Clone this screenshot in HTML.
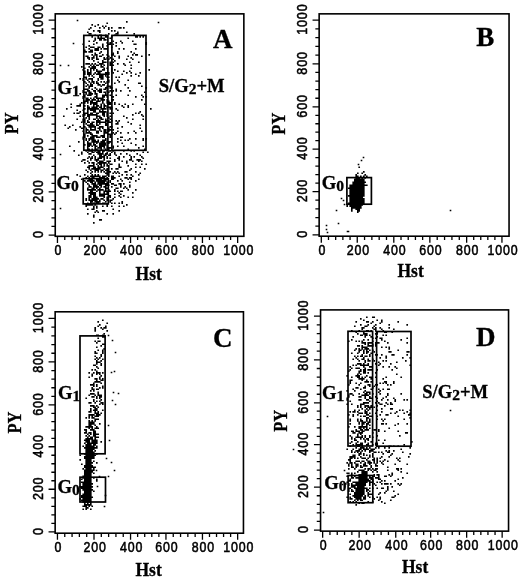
<!DOCTYPE html>
<html><head><meta charset="utf-8"><title>Figure</title>
<style>
html,body{margin:0;padding:0;background:#fff}
svg{display:block}
.tk{font-family:"Liberation Sans", sans-serif;font-size:14.5px;letter-spacing:1px;fill:#000;stroke:#000;stroke-width:0.55px}
.ax{font-family:"Liberation Serif", serif;font-weight:bold;font-size:17px;fill:#000;stroke:#000;stroke-width:0.3px}
.pl{font-family:"Liberation Serif", serif;font-weight:bold;font-size:26.5px;fill:#000;stroke:#000;stroke-width:0.3px}
.gl{font-family:"Liberation Serif", serif;font-weight:bold;font-size:18px;fill:#000;stroke:#000;stroke-width:0.3px}
.sb{font-size:15px}
</style></head><body>
<svg width="520" height="578" viewBox="0 0 520 578">
<rect width="520" height="578" fill="#fff"/>
<rect x="55.25" y="13.85" width="188.60" height="222.45" fill="none" stroke="#000" stroke-width="1.6"/>
<path d="M57.45 236.30v6.6 M55.25 235.05h-6.6 M64.76 236.30v3.8 M55.25 226.43h-3.8 M72.07 236.30v3.8 M55.25 217.81h-3.8 M79.38 236.30v3.8 M55.25 209.19h-3.8 M86.69 236.30v3.8 M55.25 200.57h-3.8 M94.00 236.30v6.6 M55.25 191.95h-6.6 M101.31 236.30v3.8 M55.25 183.45h-3.8 M108.62 236.30v3.8 M55.25 174.95h-3.8 M115.93 236.30v3.8 M55.25 166.45h-3.8 M123.24 236.30v3.8 M55.25 157.95h-3.8 M130.55 236.30v6.6 M55.25 149.45h-6.6 M137.63 236.30v3.8 M55.25 141.01h-3.8 M144.71 236.30v3.8 M55.25 132.57h-3.8 M151.79 236.30v3.8 M55.25 124.13h-3.8 M158.87 236.30v3.8 M55.25 115.69h-3.8 M165.95 236.30v6.6 M55.25 107.25h-6.6 M173.25 236.30v3.8 M55.25 98.65h-3.8 M180.55 236.30v3.8 M55.25 90.05h-3.8 M187.85 236.30v3.8 M55.25 81.45h-3.8 M195.15 236.30v3.8 M55.25 72.85h-3.8 M202.45 236.30v6.6 M55.25 64.25h-6.6 M209.49 236.30v3.8 M55.25 55.41h-3.8 M216.53 236.30v3.8 M55.25 46.57h-3.8 M223.57 236.30v3.8 M55.25 37.73h-3.8 M230.61 236.30v3.8 M55.25 28.89h-3.8 M237.65 236.30v6.6 M55.25 20.05h-6.6" stroke="#000" stroke-width="1.3" fill="none"/>
<text class="tk" transform="translate(58.45 254.65) scale(0.855 1)" text-anchor="middle">0</text>
<text class="tk" transform="translate(43.15 234.15) rotate(-90) scale(0.862 1.0)" text-anchor="middle">0</text>
<text class="tk" transform="translate(95.00 254.65) scale(0.855 1)" text-anchor="middle">200</text>
<text class="tk" transform="translate(43.15 191.05) rotate(-90) scale(0.862 1.0)" text-anchor="middle">200</text>
<text class="tk" transform="translate(131.55 254.65) scale(0.855 1)" text-anchor="middle">400</text>
<text class="tk" transform="translate(43.15 148.55) rotate(-90) scale(0.862 1.0)" text-anchor="middle">400</text>
<text class="tk" transform="translate(166.95 254.65) scale(0.855 1)" text-anchor="middle">600</text>
<text class="tk" transform="translate(43.15 106.35) rotate(-90) scale(0.862 1.0)" text-anchor="middle">600</text>
<text class="tk" transform="translate(203.45 254.65) scale(0.855 1)" text-anchor="middle">800</text>
<text class="tk" transform="translate(43.15 63.35) rotate(-90) scale(0.862 1.0)" text-anchor="middle">800</text>
<text class="tk" transform="translate(238.65 254.65) scale(0.855 1)" text-anchor="middle">1000</text>
<text class="tk" transform="translate(43.15 19.15) rotate(-90) scale(0.862 1.0)" text-anchor="middle">1000</text>
<text class="ax" transform="translate(135.60 280.00) scale(1.03 1.13)">Hst</text>
<text class="ax" transform="translate(18.00 123.30) rotate(-90) scale(0.97 1.06)" text-anchor="middle">PY</text>
<text class="pl" transform="translate(213.00 47.60) scale(1.02 1.045)">A</text>
<rect x="83.80" y="35.40" width="24.10" height="114.80" fill="none" stroke="#000" stroke-width="1.7"/>
<rect x="111.90" y="35.40" width="34.10" height="114.90" fill="none" stroke="#000" stroke-width="1.7"/>
<rect x="83.20" y="178.60" width="25.10" height="25.30" fill="none" stroke="#000" stroke-width="1.7"/>
<text class="gl" transform="translate(57.50 93.60) scale(1.04 1)">G<tspan class="sb" dy="2">1</tspan></text>
<text class="gl" transform="translate(56.50 189.10) scale(1.04 1)">G<tspan class="sb" dy="2">0</tspan></text>
<text class="gl" transform="translate(158.70 91.50) scale(1.035 1)">S/G<tspan class="sb" dy="2">2</tspan><tspan dy="-2">+M</tspan></text>
<rect x="319.15" y="13.85" width="189.90" height="222.35" fill="none" stroke="#000" stroke-width="1.6"/>
<path d="M321.30 236.20v6.6 M319.15 234.85h-6.6 M328.49 236.20v3.8 M319.15 226.19h-3.8 M335.68 236.20v3.8 M319.15 217.53h-3.8 M342.87 236.20v3.8 M319.15 208.87h-3.8 M350.06 236.20v3.8 M319.15 200.21h-3.8 M357.25 236.20v6.6 M319.15 191.55h-6.6 M364.56 236.20v3.8 M319.15 183.05h-3.8 M371.87 236.20v3.8 M319.15 174.55h-3.8 M379.18 236.20v3.8 M319.15 166.05h-3.8 M386.49 236.20v3.8 M319.15 157.55h-3.8 M393.80 236.20v6.6 M319.15 149.05h-6.6 M401.01 236.20v3.8 M319.15 140.61h-3.8 M408.22 236.20v3.8 M319.15 132.17h-3.8 M415.43 236.20v3.8 M319.15 123.73h-3.8 M422.64 236.20v3.8 M319.15 115.29h-3.8 M429.85 236.20v6.6 M319.15 106.85h-6.6 M437.21 236.20v3.8 M319.15 98.25h-3.8 M444.57 236.20v3.8 M319.15 89.65h-3.8 M451.93 236.20v3.8 M319.15 81.05h-3.8 M459.29 236.20v3.8 M319.15 72.45h-3.8 M466.65 236.20v6.6 M319.15 63.85h-6.6 M473.71 236.20v3.8 M319.15 55.09h-3.8 M480.77 236.20v3.8 M319.15 46.33h-3.8 M487.83 236.20v3.8 M319.15 37.57h-3.8 M494.89 236.20v3.8 M319.15 28.81h-3.8 M501.95 236.20v6.6 M319.15 20.05h-6.6" stroke="#000" stroke-width="1.3" fill="none"/>
<text class="tk" transform="translate(322.30 255.05) scale(0.855 1)" text-anchor="middle">0</text>
<text class="tk" transform="translate(307.05 233.95) rotate(-90) scale(0.862 1.0)" text-anchor="middle">0</text>
<text class="tk" transform="translate(358.25 255.05) scale(0.855 1)" text-anchor="middle">200</text>
<text class="tk" transform="translate(307.05 190.65) rotate(-90) scale(0.862 1.0)" text-anchor="middle">200</text>
<text class="tk" transform="translate(394.80 255.05) scale(0.855 1)" text-anchor="middle">400</text>
<text class="tk" transform="translate(307.05 148.15) rotate(-90) scale(0.862 1.0)" text-anchor="middle">400</text>
<text class="tk" transform="translate(430.85 255.05) scale(0.855 1)" text-anchor="middle">600</text>
<text class="tk" transform="translate(307.05 105.95) rotate(-90) scale(0.862 1.0)" text-anchor="middle">600</text>
<text class="tk" transform="translate(467.65 255.05) scale(0.855 1)" text-anchor="middle">800</text>
<text class="tk" transform="translate(307.05 62.95) rotate(-90) scale(0.862 1.0)" text-anchor="middle">800</text>
<text class="tk" transform="translate(502.95 255.05) scale(0.855 1)" text-anchor="middle">1000</text>
<text class="tk" transform="translate(307.05 19.15) rotate(-90) scale(0.862 1.0)" text-anchor="middle">1000</text>
<text class="ax" transform="translate(397.50 276.80) scale(1.03 1.13)">Hst</text>
<text class="ax" transform="translate(285.40 123.70) rotate(-90) scale(0.97 1.06)" text-anchor="middle">PY</text>
<text class="pl" transform="translate(476.30 45.90) scale(1.02 1.045)">B</text>
<rect x="346.90" y="177.60" width="24.50" height="26.60" fill="none" stroke="#000" stroke-width="1.7"/>
<text class="gl" transform="translate(321.70 188.60) scale(1.04 1)">G<tspan class="sb" dy="2">0</tspan></text>
<rect x="55.15" y="311.80" width="188.30" height="221.40" fill="none" stroke="#000" stroke-width="1.6"/>
<path d="M57.45 533.20v6.6 M55.15 531.95h-6.6 M64.76 533.20v3.8 M55.15 523.41h-3.8 M72.07 533.20v3.8 M55.15 514.87h-3.8 M79.38 533.20v3.8 M55.15 506.33h-3.8 M86.69 533.20v3.8 M55.15 497.79h-3.8 M94.00 533.20v6.6 M55.15 489.25h-6.6 M101.31 533.20v3.8 M55.15 480.75h-3.8 M108.62 533.20v3.8 M55.15 472.25h-3.8 M115.93 533.20v3.8 M55.15 463.75h-3.8 M123.24 533.20v3.8 M55.15 455.25h-3.8 M130.55 533.20v6.6 M55.15 446.75h-6.6 M137.63 533.20v3.8 M55.15 438.39h-3.8 M144.71 533.20v3.8 M55.15 430.03h-3.8 M151.79 533.20v3.8 M55.15 421.67h-3.8 M158.87 533.20v3.8 M55.15 413.31h-3.8 M165.95 533.20v6.6 M55.15 404.95h-6.6 M173.25 533.20v3.8 M55.15 396.35h-3.8 M180.55 533.20v3.8 M55.15 387.75h-3.8 M187.85 533.20v3.8 M55.15 379.15h-3.8 M195.15 533.20v3.8 M55.15 370.55h-3.8 M202.45 533.20v6.6 M55.15 361.95h-6.6 M209.49 533.20v3.8 M55.15 353.25h-3.8 M216.53 533.20v3.8 M55.15 344.55h-3.8 M223.57 533.20v3.8 M55.15 335.85h-3.8 M230.61 533.20v3.8 M55.15 327.15h-3.8 M237.65 533.20v6.6 M55.15 318.45h-6.6" stroke="#000" stroke-width="1.3" fill="none"/>
<text class="tk" transform="translate(58.45 551.55) scale(0.855 1)" text-anchor="middle">0</text>
<text class="tk" transform="translate(43.05 531.05) rotate(-90) scale(0.862 1.0)" text-anchor="middle">0</text>
<text class="tk" transform="translate(95.00 551.55) scale(0.855 1)" text-anchor="middle">200</text>
<text class="tk" transform="translate(43.05 488.35) rotate(-90) scale(0.862 1.0)" text-anchor="middle">200</text>
<text class="tk" transform="translate(131.55 551.55) scale(0.855 1)" text-anchor="middle">400</text>
<text class="tk" transform="translate(43.05 445.85) rotate(-90) scale(0.862 1.0)" text-anchor="middle">400</text>
<text class="tk" transform="translate(166.95 551.55) scale(0.855 1)" text-anchor="middle">600</text>
<text class="tk" transform="translate(43.05 404.05) rotate(-90) scale(0.862 1.0)" text-anchor="middle">600</text>
<text class="tk" transform="translate(203.45 551.55) scale(0.855 1)" text-anchor="middle">800</text>
<text class="tk" transform="translate(43.05 361.05) rotate(-90) scale(0.862 1.0)" text-anchor="middle">800</text>
<text class="tk" transform="translate(238.65 551.55) scale(0.855 1)" text-anchor="middle">1000</text>
<text class="tk" transform="translate(43.05 317.55) rotate(-90) scale(0.862 1.0)" text-anchor="middle">1000</text>
<text class="ax" transform="translate(135.50 575.80) scale(1.03 1.13)">Hst</text>
<text class="ax" transform="translate(21.10 422.50) rotate(-90) scale(0.97 1.06)" text-anchor="middle">PY</text>
<text class="pl" transform="translate(213.00 347.30) scale(1.02 1.045)">C</text>
<rect x="80.00" y="335.90" width="25.10" height="117.90" fill="none" stroke="#000" stroke-width="1.7"/>
<rect x="80.00" y="477.20" width="25.50" height="24.80" fill="none" stroke="#000" stroke-width="1.7"/>
<text class="gl" transform="translate(58.00 399.00) scale(1.04 1)">G<tspan class="sb" dy="2">1</tspan></text>
<text class="gl" transform="translate(57.50 492.60) scale(1.04 1)">G<tspan class="sb" dy="2">0</tspan></text>
<rect x="320.55" y="309.90" width="188.00" height="221.25" fill="none" stroke="#000" stroke-width="1.6"/>
<path d="M322.65 531.15v6.6 M320.55 530.05h-6.6 M329.95 531.15v3.8 M320.55 521.47h-3.8 M337.25 531.15v3.8 M320.55 512.89h-3.8 M344.55 531.15v3.8 M320.55 504.31h-3.8 M351.85 531.15v3.8 M320.55 495.73h-3.8 M359.15 531.15v6.6 M320.55 487.15h-6.6 M366.47 531.15v3.8 M320.55 478.65h-3.8 M373.79 531.15v3.8 M320.55 470.15h-3.8 M381.11 531.15v3.8 M320.55 461.65h-3.8 M388.43 531.15v3.8 M320.55 453.15h-3.8 M395.75 531.15v6.6 M320.55 444.65h-6.6 M402.73 531.15v3.8 M320.55 436.29h-3.8 M409.71 531.15v3.8 M320.55 427.93h-3.8 M416.69 531.15v3.8 M320.55 419.57h-3.8 M423.67 531.15v3.8 M320.55 411.21h-3.8 M430.65 531.15v6.6 M320.55 402.85h-6.6 M437.85 531.15v3.8 M320.55 394.26h-3.8 M445.05 531.15v3.8 M320.55 385.67h-3.8 M452.25 531.15v3.8 M320.55 377.08h-3.8 M459.45 531.15v3.8 M320.55 368.49h-3.8 M466.65 531.15v6.6 M320.55 359.90h-6.6 M473.75 531.15v3.8 M320.55 351.15h-3.8 M480.85 531.15v3.8 M320.55 342.40h-3.8 M487.95 531.15v3.8 M320.55 333.65h-3.8 M495.05 531.15v3.8 M320.55 324.90h-3.8 M502.15 531.15v6.6 M320.55 316.15h-6.6" stroke="#000" stroke-width="1.3" fill="none"/>
<text class="tk" transform="translate(323.65 549.60) scale(0.855 1)" text-anchor="middle">0</text>
<text class="tk" transform="translate(308.45 529.15) rotate(-90) scale(0.862 1.0)" text-anchor="middle">0</text>
<text class="tk" transform="translate(360.15 549.60) scale(0.855 1)" text-anchor="middle">200</text>
<text class="tk" transform="translate(308.45 486.25) rotate(-90) scale(0.862 1.0)" text-anchor="middle">200</text>
<text class="tk" transform="translate(396.75 549.60) scale(0.855 1)" text-anchor="middle">400</text>
<text class="tk" transform="translate(308.45 443.75) rotate(-90) scale(0.862 1.0)" text-anchor="middle">400</text>
<text class="tk" transform="translate(431.65 549.60) scale(0.855 1)" text-anchor="middle">600</text>
<text class="tk" transform="translate(308.45 401.95) rotate(-90) scale(0.862 1.0)" text-anchor="middle">600</text>
<text class="tk" transform="translate(467.65 549.60) scale(0.855 1)" text-anchor="middle">800</text>
<text class="tk" transform="translate(308.45 359.00) rotate(-90) scale(0.862 1.0)" text-anchor="middle">800</text>
<text class="tk" transform="translate(503.15 549.60) scale(0.855 1)" text-anchor="middle">1000</text>
<text class="tk" transform="translate(308.45 315.25) rotate(-90) scale(0.862 1.0)" text-anchor="middle">1000</text>
<text class="ax" transform="translate(402.00 572.80) scale(1.03 1.13)">Hst</text>
<text class="ax" transform="translate(286.50 420.75) rotate(-90) scale(0.97 1.06)" text-anchor="middle">PY</text>
<text class="pl" transform="translate(476.00 345.50) scale(1.02 1.045)">D</text>
<rect x="348.00" y="331.30" width="24.60" height="114.70" fill="none" stroke="#000" stroke-width="1.7"/>
<rect x="376.60" y="331.50" width="34.40" height="114.70" fill="none" stroke="#000" stroke-width="1.7"/>
<rect x="348.10" y="475.50" width="24.70" height="27.20" fill="none" stroke="#000" stroke-width="1.7"/>
<text class="gl" transform="translate(322.00 399.00) scale(1.04 1)">G<tspan class="sb" dy="2">1</tspan></text>
<text class="gl" transform="translate(324.20 489.10) scale(1.04 1)">G<tspan class="sb" dy="2">0</tspan></text>
<text class="gl" transform="translate(422.20 398.20) scale(1.035 1)">S/G<tspan class="sb" dy="2">2</tspan><tspan dy="-2">+M</tspan></text>
<path d="M126.8 21.8h.01 M107.2 23.2h.01 M92.2 24.8h.01 M98.2 24.8h.01 M95.2 26.2h.01 M102.8 26.2h.01 M105.8 26.2h.01 M90.8 27.8h.01 M99.8 27.8h.01 M104.2 27.8h.01 M108.8 27.8h.01 M111.8 27.8h.01 M119.2 27.8h.01 M120.8 27.8h.01 M123.8 27.8h.01 M89.2 29.2h.01 M108.8 29.2h.01 M93.8 30.8h.01 M98.2 30.8h.01 M99.8 30.8h.01 M111.8 30.8h.01 M114.8 30.8h.01 M87.8 32.2h.01 M99.8 32.2h.01 M117.8 32.2h.01 M126.8 32.2h.01 M89.2 33.8h.01 M90.8 33.8h.01 M108.8 33.8h.01 M116.2 33.8h.01 M117.8 33.8h.01 M134.2 33.8h.01 M95.2 35.2h.01 M99.8 35.2h.01 M101.2 35.2h.01 M105.8 35.2h.01 M114.8 35.2h.01 M92.2 36.8h.01 M98.2 36.8h.01 M101.2 36.8h.01 M105.8 36.8h.01 M107.2 36.8h.01 M111.8 36.8h.01 M135.8 36.8h.01 M137.2 36.8h.01 M140.2 36.8h.01 M143.2 36.8h.01 M95.2 38.2h.01 M98.2 38.2h.01 M99.8 38.2h.01 M101.2 38.2h.01 M102.8 38.2h.01 M104.2 38.2h.01 M110.2 38.2h.01 M128.2 38.2h.01 M95.2 39.8h.01 M99.8 39.8h.01 M101.2 39.8h.01 M104.2 39.8h.01 M105.8 39.8h.01 M89.2 41.2h.01 M93.8 41.2h.01 M113.2 41.2h.01 M120.8 41.2h.01 M132.8 41.2h.01 M96.8 42.8h.01 M107.2 42.8h.01 M110.2 42.8h.01 M116.2 42.8h.01 M122.2 42.8h.01 M146.2 42.8h.01 M83.2 44.2h.01 M93.8 44.2h.01 M102.8 44.2h.01 M108.8 44.2h.01 M110.2 44.2h.01 M113.2 44.2h.01 M134.2 44.2h.01 M135.8 44.2h.01 M146.2 44.2h.01 M89.2 45.8h.01 M102.8 45.8h.01 M107.2 45.8h.01 M116.2 45.8h.01 M86.2 47.2h.01 M90.8 47.2h.01 M92.2 47.2h.01 M93.8 47.2h.01 M98.2 47.2h.01 M99.8 47.2h.01 M102.8 47.2h.01 M111.8 47.2h.01 M89.2 48.8h.01 M95.2 48.8h.01 M96.8 48.8h.01 M98.2 48.8h.01 M101.2 48.8h.01 M104.2 48.8h.01 M105.8 48.8h.01 M107.2 48.8h.01 M119.2 48.8h.01 M123.8 48.8h.01 M135.8 48.8h.01 M84.8 50.2h.01 M90.8 50.2h.01 M92.2 50.2h.01 M95.2 50.2h.01 M96.8 50.2h.01 M98.2 50.2h.01 M84.8 51.8h.01 M86.2 51.8h.01 M89.2 51.8h.01 M90.8 51.8h.01 M92.2 51.8h.01 M101.2 51.8h.01 M117.8 51.8h.01 M131.2 51.8h.01 M95.2 53.2h.01 M99.8 53.2h.01 M113.2 53.2h.01 M117.8 53.2h.01 M134.2 53.2h.01 M92.2 54.8h.01 M95.2 54.8h.01 M96.8 54.8h.01 M102.8 54.8h.01 M107.2 54.8h.01 M111.8 54.8h.01 M113.2 54.8h.01 M132.8 54.8h.01 M135.8 54.8h.01 M137.2 54.8h.01 M149.2 54.8h.01 M86.2 56.2h.01 M87.8 56.2h.01 M93.8 56.2h.01 M96.8 56.2h.01 M99.8 56.2h.01 M101.2 56.2h.01 M108.8 56.2h.01 M114.8 56.2h.01 M119.2 56.2h.01 M128.2 56.2h.01 M141.8 56.2h.01 M87.8 57.8h.01 M89.2 57.8h.01 M92.2 57.8h.01 M93.8 57.8h.01 M96.8 57.8h.01 M104.2 57.8h.01 M107.2 57.8h.01 M110.2 57.8h.01 M119.2 57.8h.01 M131.2 57.8h.01 M89.2 59.2h.01 M92.2 59.2h.01 M96.8 59.2h.01 M98.2 59.2h.01 M104.2 59.2h.01 M105.8 59.2h.01 M108.8 59.2h.01 M113.2 59.2h.01 M126.8 59.2h.01 M132.8 59.2h.01 M93.8 60.8h.01 M102.8 60.8h.01 M114.8 60.8h.01 M98.2 62.2h.01 M102.8 62.2h.01 M104.2 62.2h.01 M105.8 62.2h.01 M110.2 62.2h.01 M113.2 62.2h.01 M129.8 62.2h.01 M138.8 62.2h.01 M86.2 63.8h.01 M87.8 63.8h.01 M89.2 63.8h.01 M92.2 63.8h.01 M95.2 63.8h.01 M99.8 63.8h.01 M101.2 63.8h.01 M102.8 63.8h.01 M110.2 63.8h.01 M111.8 63.8h.01 M117.8 63.8h.01 M123.8 63.8h.01 M90.8 65.2h.01 M93.8 65.2h.01 M96.8 65.2h.01 M98.2 65.2h.01 M101.2 65.2h.01 M104.2 65.2h.01 M110.2 65.2h.01 M111.8 65.2h.01 M113.2 65.2h.01 M125.2 65.2h.01 M131.2 65.2h.01 M81.8 66.8h.01 M89.2 66.8h.01 M92.2 66.8h.01 M93.8 66.8h.01 M95.2 66.8h.01 M101.2 66.8h.01 M102.8 66.8h.01 M84.8 68.2h.01 M90.8 68.2h.01 M92.2 68.2h.01 M93.8 68.2h.01 M95.2 68.2h.01 M104.2 68.2h.01 M107.2 68.2h.01 M111.8 68.2h.01 M131.2 68.2h.01 M83.2 69.8h.01 M87.8 69.8h.01 M90.8 69.8h.01 M93.8 69.8h.01 M96.8 69.8h.01 M102.8 69.8h.01 M104.2 69.8h.01 M111.8 69.8h.01 M114.8 69.8h.01 M149.2 69.8h.01 M84.8 71.2h.01 M87.8 71.2h.01 M90.8 71.2h.01 M96.8 71.2h.01 M98.2 71.2h.01 M99.8 71.2h.01 M101.2 71.2h.01 M111.8 71.2h.01 M117.8 71.2h.01 M123.8 71.2h.01 M129.8 71.2h.01 M84.8 72.8h.01 M87.8 72.8h.01 M89.2 72.8h.01 M90.8 72.8h.01 M95.2 72.8h.01 M98.2 72.8h.01 M99.8 72.8h.01 M105.8 72.8h.01 M107.2 72.8h.01 M108.8 72.8h.01 M113.2 72.8h.01 M126.8 72.8h.01 M131.2 72.8h.01 M140.2 72.8h.01 M84.8 74.2h.01 M87.8 74.2h.01 M89.2 74.2h.01 M90.8 74.2h.01 M93.8 74.2h.01 M96.8 74.2h.01 M98.2 74.2h.01 M99.8 74.2h.01 M101.2 74.2h.01 M102.8 74.2h.01 M104.2 74.2h.01 M105.8 74.2h.01 M107.2 74.2h.01 M108.8 74.2h.01 M122.2 74.2h.01 M135.8 74.2h.01 M89.2 75.8h.01 M92.2 75.8h.01 M99.8 75.8h.01 M101.2 75.8h.01 M102.8 75.8h.01 M105.8 75.8h.01 M131.2 75.8h.01 M138.8 75.8h.01 M84.8 77.2h.01 M86.2 77.2h.01 M93.8 77.2h.01 M99.8 77.2h.01 M101.2 77.2h.01 M102.8 77.2h.01 M107.2 77.2h.01 M108.8 77.2h.01 M116.2 77.2h.01 M119.2 77.2h.01 M80.2 78.8h.01 M83.2 78.8h.01 M86.2 78.8h.01 M89.2 78.8h.01 M90.8 78.8h.01 M92.2 78.8h.01 M98.2 78.8h.01 M101.2 78.8h.01 M102.8 78.8h.01 M83.2 80.2h.01 M87.8 80.2h.01 M92.2 80.2h.01 M98.2 80.2h.01 M108.8 80.2h.01 M117.8 80.2h.01 M128.2 80.2h.01 M84.8 81.8h.01 M89.2 81.8h.01 M92.2 81.8h.01 M93.8 81.8h.01 M96.8 81.8h.01 M101.2 81.8h.01 M104.2 81.8h.01 M107.2 81.8h.01 M108.8 81.8h.01 M119.2 81.8h.01 M86.2 83.2h.01 M90.8 83.2h.01 M93.8 83.2h.01 M96.8 83.2h.01 M98.2 83.2h.01 M105.8 83.2h.01 M114.8 83.2h.01 M138.8 83.2h.01 M140.2 83.2h.01 M87.8 84.8h.01 M90.8 84.8h.01 M92.2 84.8h.01 M98.2 84.8h.01 M99.8 84.8h.01 M102.8 84.8h.01 M104.2 84.8h.01 M125.2 84.8h.01 M86.2 86.2h.01 M89.2 86.2h.01 M90.8 86.2h.01 M92.2 86.2h.01 M101.2 86.2h.01 M107.2 86.2h.01 M108.8 86.2h.01 M110.2 86.2h.01 M141.8 86.2h.01 M89.2 87.8h.01 M95.2 87.8h.01 M105.8 87.8h.01 M107.2 87.8h.01 M110.2 87.8h.01 M111.8 87.8h.01 M128.2 87.8h.01 M146.2 87.8h.01 M84.8 89.2h.01 M86.2 89.2h.01 M87.8 89.2h.01 M92.2 89.2h.01 M96.8 89.2h.01 M99.8 89.2h.01 M101.2 89.2h.01 M104.2 89.2h.01 M105.8 89.2h.01 M116.2 89.2h.01 M83.2 90.8h.01 M87.8 90.8h.01 M89.2 90.8h.01 M93.8 90.8h.01 M95.2 90.8h.01 M98.2 90.8h.01 M99.8 90.8h.01 M101.2 90.8h.01 M107.2 90.8h.01 M110.2 90.8h.01 M113.2 90.8h.01 M116.2 90.8h.01 M120.8 90.8h.01 M129.8 90.8h.01 M83.2 92.2h.01 M84.8 92.2h.01 M86.2 92.2h.01 M89.2 92.2h.01 M90.8 92.2h.01 M95.2 92.2h.01 M99.8 92.2h.01 M101.2 92.2h.01 M104.2 92.2h.01 M105.8 92.2h.01 M108.8 92.2h.01 M111.8 92.2h.01 M144.8 92.2h.01 M80.2 93.8h.01 M86.2 93.8h.01 M89.2 93.8h.01 M90.8 93.8h.01 M92.2 93.8h.01 M95.2 93.8h.01 M96.8 93.8h.01 M105.8 93.8h.01 M84.8 95.2h.01 M87.8 95.2h.01 M89.2 95.2h.01 M90.8 95.2h.01 M96.8 95.2h.01 M102.8 95.2h.01 M104.2 95.2h.01 M105.8 95.2h.01 M107.2 95.2h.01 M110.2 95.2h.01 M116.2 95.2h.01 M128.2 95.2h.01 M141.8 95.2h.01 M83.2 96.8h.01 M84.8 96.8h.01 M95.2 96.8h.01 M96.8 96.8h.01 M102.8 96.8h.01 M104.2 96.8h.01 M107.2 96.8h.01 M111.8 96.8h.01 M113.2 96.8h.01 M135.8 96.8h.01 M143.2 96.8h.01 M146.2 96.8h.01 M83.2 98.2h.01 M86.2 98.2h.01 M87.8 98.2h.01 M90.8 98.2h.01 M93.8 98.2h.01 M96.8 98.2h.01 M98.2 98.2h.01 M99.8 98.2h.01 M101.2 98.2h.01 M102.8 98.2h.01 M86.2 99.8h.01 M87.8 99.8h.01 M89.2 99.8h.01 M92.2 99.8h.01 M93.8 99.8h.01 M95.2 99.8h.01 M98.2 99.8h.01 M101.2 99.8h.01 M102.8 99.8h.01 M104.2 99.8h.01 M107.2 99.8h.01 M111.8 99.8h.01 M113.2 99.8h.01 M141.8 99.8h.01 M84.8 101.2h.01 M86.2 101.2h.01 M87.8 101.2h.01 M90.8 101.2h.01 M92.2 101.2h.01 M96.8 101.2h.01 M98.2 101.2h.01 M99.8 101.2h.01 M102.8 101.2h.01 M107.2 101.2h.01 M108.8 101.2h.01 M111.8 101.2h.01 M81.8 102.8h.01 M84.8 102.8h.01 M87.8 102.8h.01 M90.8 102.8h.01 M92.2 102.8h.01 M93.8 102.8h.01 M95.2 102.8h.01 M96.8 102.8h.01 M102.8 102.8h.01 M107.2 102.8h.01 M108.8 102.8h.01 M110.2 102.8h.01 M114.8 102.8h.01 M71.2 104.2h.01 M80.2 104.2h.01 M90.8 104.2h.01 M93.8 104.2h.01 M95.2 104.2h.01 M96.8 104.2h.01 M101.2 104.2h.01 M104.2 104.2h.01 M108.8 104.2h.01 M110.2 104.2h.01 M114.8 104.2h.01 M119.2 104.2h.01 M125.2 104.2h.01 M132.8 104.2h.01 M144.8 104.2h.01 M77.2 105.8h.01 M78.8 105.8h.01 M80.2 105.8h.01 M84.8 105.8h.01 M87.8 105.8h.01 M93.8 105.8h.01 M96.8 105.8h.01 M98.2 105.8h.01 M101.2 105.8h.01 M104.2 105.8h.01 M105.8 105.8h.01 M122.2 105.8h.01 M128.2 105.8h.01 M71.2 107.2h.01 M87.8 107.2h.01 M89.2 107.2h.01 M92.2 107.2h.01 M93.8 107.2h.01 M95.2 107.2h.01 M96.8 107.2h.01 M99.8 107.2h.01 M101.2 107.2h.01 M104.2 107.2h.01 M107.2 107.2h.01 M108.8 107.2h.01 M110.2 107.2h.01 M111.8 107.2h.01 M123.8 107.2h.01 M128.2 107.2h.01 M66.8 108.8h.01 M84.8 108.8h.01 M87.8 108.8h.01 M89.2 108.8h.01 M90.8 108.8h.01 M92.2 108.8h.01 M93.8 108.8h.01 M95.2 108.8h.01 M96.8 108.8h.01 M98.2 108.8h.01 M101.2 108.8h.01 M102.8 108.8h.01 M104.2 108.8h.01 M105.8 108.8h.01 M110.2 108.8h.01 M111.8 108.8h.01 M116.2 108.8h.01 M150.8 108.8h.01 M77.2 110.2h.01 M83.2 110.2h.01 M87.8 110.2h.01 M90.8 110.2h.01 M92.2 110.2h.01 M93.8 110.2h.01 M95.2 110.2h.01 M99.8 110.2h.01 M102.8 110.2h.01 M117.8 110.2h.01 M80.2 111.8h.01 M87.8 111.8h.01 M93.8 111.8h.01 M95.2 111.8h.01 M99.8 111.8h.01 M101.2 111.8h.01 M102.8 111.8h.01 M104.2 111.8h.01 M105.8 111.8h.01 M140.2 111.8h.01 M74.2 113.2h.01 M77.2 113.2h.01 M78.8 113.2h.01 M84.8 113.2h.01 M86.2 113.2h.01 M87.8 113.2h.01 M90.8 113.2h.01 M92.2 113.2h.01 M96.8 113.2h.01 M98.2 113.2h.01 M102.8 113.2h.01 M104.2 113.2h.01 M107.2 113.2h.01 M110.2 113.2h.01 M113.2 113.2h.01 M135.8 113.2h.01 M138.8 113.2h.01 M83.2 114.8h.01 M84.8 114.8h.01 M87.8 114.8h.01 M89.2 114.8h.01 M90.8 114.8h.01 M92.2 114.8h.01 M93.8 114.8h.01 M95.2 114.8h.01 M96.8 114.8h.01 M102.8 114.8h.01 M104.2 114.8h.01 M107.2 114.8h.01 M132.8 114.8h.01 M141.8 114.8h.01 M63.8 116.2h.01 M80.2 116.2h.01 M83.2 116.2h.01 M87.8 116.2h.01 M89.2 116.2h.01 M96.8 116.2h.01 M98.2 116.2h.01 M99.8 116.2h.01 M104.2 116.2h.01 M107.2 116.2h.01 M110.2 116.2h.01 M123.8 116.2h.01 M143.2 116.2h.01 M86.2 117.8h.01 M89.2 117.8h.01 M96.8 117.8h.01 M99.8 117.8h.01 M101.2 117.8h.01 M108.8 117.8h.01 M126.8 117.8h.01 M77.2 119.2h.01 M83.2 119.2h.01 M84.8 119.2h.01 M89.2 119.2h.01 M93.8 119.2h.01 M95.2 119.2h.01 M98.2 119.2h.01 M101.2 119.2h.01 M102.8 119.2h.01 M105.8 119.2h.01 M110.2 119.2h.01 M132.8 119.2h.01 M143.2 119.2h.01 M83.2 120.8h.01 M84.8 120.8h.01 M87.8 120.8h.01 M96.8 120.8h.01 M98.2 120.8h.01 M99.8 120.8h.01 M105.8 120.8h.01 M107.2 120.8h.01 M108.8 120.8h.01 M111.8 120.8h.01 M116.2 120.8h.01 M119.2 120.8h.01 M81.8 122.2h.01 M84.8 122.2h.01 M87.8 122.2h.01 M89.2 122.2h.01 M92.2 122.2h.01 M93.8 122.2h.01 M96.8 122.2h.01 M98.2 122.2h.01 M99.8 122.2h.01 M101.2 122.2h.01 M102.8 122.2h.01 M104.2 122.2h.01 M105.8 122.2h.01 M108.8 122.2h.01 M110.2 122.2h.01 M117.8 122.2h.01 M128.2 122.2h.01 M86.2 123.8h.01 M90.8 123.8h.01 M92.2 123.8h.01 M96.8 123.8h.01 M99.8 123.8h.01 M105.8 123.8h.01 M107.2 123.8h.01 M116.2 123.8h.01 M117.8 123.8h.01 M131.2 123.8h.01 M65.2 125.2h.01 M72.8 125.2h.01 M87.8 125.2h.01 M89.2 125.2h.01 M90.8 125.2h.01 M92.2 125.2h.01 M93.8 125.2h.01 M96.8 125.2h.01 M98.2 125.2h.01 M105.8 125.2h.01 M107.2 125.2h.01 M140.2 125.2h.01 M69.8 126.8h.01 M80.2 126.8h.01 M84.8 126.8h.01 M89.2 126.8h.01 M90.8 126.8h.01 M92.2 126.8h.01 M93.8 126.8h.01 M95.2 126.8h.01 M99.8 126.8h.01 M101.2 126.8h.01 M102.8 126.8h.01 M110.2 126.8h.01 M111.8 126.8h.01 M122.2 126.8h.01 M68.2 128.2h.01 M81.8 128.2h.01 M83.2 128.2h.01 M86.2 128.2h.01 M90.8 128.2h.01 M95.2 128.2h.01 M98.2 128.2h.01 M99.8 128.2h.01 M102.8 128.2h.01 M108.8 128.2h.01 M117.8 128.2h.01 M140.2 128.2h.01 M75.8 129.8h.01 M86.2 129.8h.01 M87.8 129.8h.01 M90.8 129.8h.01 M92.2 129.8h.01 M93.8 129.8h.01 M95.2 129.8h.01 M99.8 129.8h.01 M104.2 129.8h.01 M105.8 129.8h.01 M108.8 129.8h.01 M110.2 129.8h.01 M113.2 129.8h.01 M83.2 131.2h.01 M86.2 131.2h.01 M89.2 131.2h.01 M96.8 131.2h.01 M98.2 131.2h.01 M101.2 131.2h.01 M104.2 131.2h.01 M105.8 131.2h.01 M108.8 131.2h.01 M117.8 131.2h.01 M134.2 131.2h.01 M141.8 131.2h.01 M86.2 132.8h.01 M87.8 132.8h.01 M89.2 132.8h.01 M90.8 132.8h.01 M96.8 132.8h.01 M98.2 132.8h.01 M104.2 132.8h.01 M105.8 132.8h.01 M107.2 132.8h.01 M113.2 132.8h.01 M116.2 132.8h.01 M120.8 132.8h.01 M128.2 132.8h.01 M135.8 132.8h.01 M84.8 134.2h.01 M90.8 134.2h.01 M92.2 134.2h.01 M104.2 134.2h.01 M108.8 134.2h.01 M110.2 134.2h.01 M111.8 134.2h.01 M114.8 134.2h.01 M84.8 135.8h.01 M87.8 135.8h.01 M92.2 135.8h.01 M93.8 135.8h.01 M95.2 135.8h.01 M96.8 135.8h.01 M101.2 135.8h.01 M102.8 135.8h.01 M104.2 135.8h.01 M110.2 135.8h.01 M83.2 137.2h.01 M84.8 137.2h.01 M90.8 137.2h.01 M92.2 137.2h.01 M93.8 137.2h.01 M96.8 137.2h.01 M98.2 137.2h.01 M99.8 137.2h.01 M102.8 137.2h.01 M104.2 137.2h.01 M110.2 137.2h.01 M120.8 137.2h.01 M122.2 137.2h.01 M83.2 138.8h.01 M86.2 138.8h.01 M89.2 138.8h.01 M90.8 138.8h.01 M92.2 138.8h.01 M93.8 138.8h.01 M105.8 138.8h.01 M117.8 138.8h.01 M129.8 138.8h.01 M135.8 138.8h.01 M143.2 138.8h.01 M146.2 138.8h.01 M86.2 140.2h.01 M89.2 140.2h.01 M92.2 140.2h.01 M93.8 140.2h.01 M95.2 140.2h.01 M98.2 140.2h.01 M102.8 140.2h.01 M104.2 140.2h.01 M105.8 140.2h.01 M120.8 140.2h.01 M125.2 140.2h.01 M128.2 140.2h.01 M143.2 140.2h.01 M78.8 141.8h.01 M87.8 141.8h.01 M92.2 141.8h.01 M93.8 141.8h.01 M95.2 141.8h.01 M96.8 141.8h.01 M98.2 141.8h.01 M101.2 141.8h.01 M102.8 141.8h.01 M104.2 141.8h.01 M107.2 141.8h.01 M108.8 141.8h.01 M110.2 141.8h.01 M117.8 141.8h.01 M87.8 143.2h.01 M89.2 143.2h.01 M90.8 143.2h.01 M93.8 143.2h.01 M96.8 143.2h.01 M99.8 143.2h.01 M101.2 143.2h.01 M102.8 143.2h.01 M104.2 143.2h.01 M105.8 143.2h.01 M108.8 143.2h.01 M122.2 143.2h.01 M131.2 143.2h.01 M84.8 144.8h.01 M87.8 144.8h.01 M89.2 144.8h.01 M90.8 144.8h.01 M93.8 144.8h.01 M95.2 144.8h.01 M99.8 144.8h.01 M101.2 144.8h.01 M102.8 144.8h.01 M104.2 144.8h.01 M105.8 144.8h.01 M135.8 144.8h.01 M69.8 146.2h.01 M87.8 146.2h.01 M89.2 146.2h.01 M92.2 146.2h.01 M95.2 146.2h.01 M96.8 146.2h.01 M99.8 146.2h.01 M101.2 146.2h.01 M102.8 146.2h.01 M104.2 146.2h.01 M107.2 146.2h.01 M113.2 146.2h.01 M117.8 146.2h.01 M123.8 146.2h.01 M143.2 146.2h.01 M87.8 147.8h.01 M95.2 147.8h.01 M98.2 147.8h.01 M99.8 147.8h.01 M101.2 147.8h.01 M104.2 147.8h.01 M107.2 147.8h.01 M108.8 147.8h.01 M110.2 147.8h.01 M113.2 147.8h.01 M138.8 147.8h.01 M87.8 149.2h.01 M89.2 149.2h.01 M92.2 149.2h.01 M95.2 149.2h.01 M96.8 149.2h.01 M101.2 149.2h.01 M105.8 149.2h.01 M108.8 149.2h.01 M128.2 149.2h.01 M144.8 149.2h.01 M74.2 150.8h.01 M86.2 150.8h.01 M89.2 150.8h.01 M90.8 150.8h.01 M92.2 150.8h.01 M95.2 150.8h.01 M98.2 150.8h.01 M99.8 150.8h.01 M102.8 150.8h.01 M104.2 150.8h.01 M108.8 150.8h.01 M110.2 150.8h.01 M113.2 150.8h.01 M123.8 150.8h.01 M131.2 150.8h.01 M134.2 150.8h.01 M81.8 152.2h.01 M87.8 152.2h.01 M92.2 152.2h.01 M93.8 152.2h.01 M96.8 152.2h.01 M98.2 152.2h.01 M99.8 152.2h.01 M102.8 152.2h.01 M107.2 152.2h.01 M111.8 152.2h.01 M114.8 152.2h.01 M143.2 152.2h.01 M147.8 152.2h.01 M81.8 153.8h.01 M89.2 153.8h.01 M90.8 153.8h.01 M98.2 153.8h.01 M99.8 153.8h.01 M101.2 153.8h.01 M102.8 153.8h.01 M105.8 153.8h.01 M107.2 153.8h.01 M110.2 153.8h.01 M114.8 153.8h.01 M120.8 153.8h.01 M126.8 153.8h.01 M137.2 153.8h.01 M78.8 155.2h.01 M93.8 155.2h.01 M99.8 155.2h.01 M101.2 155.2h.01 M104.2 155.2h.01 M105.8 155.2h.01 M108.8 155.2h.01 M110.2 155.2h.01 M116.2 155.2h.01 M129.8 155.2h.01 M140.2 155.2h.01 M89.2 156.8h.01 M92.2 156.8h.01 M95.2 156.8h.01 M99.8 156.8h.01 M101.2 156.8h.01 M102.8 156.8h.01 M104.2 156.8h.01 M107.2 156.8h.01 M119.2 156.8h.01 M123.8 156.8h.01 M131.2 156.8h.01 M134.2 156.8h.01 M141.8 156.8h.01 M87.8 158.2h.01 M90.8 158.2h.01 M92.2 158.2h.01 M95.2 158.2h.01 M98.2 158.2h.01 M99.8 158.2h.01 M101.2 158.2h.01 M104.2 158.2h.01 M107.2 158.2h.01 M110.2 158.2h.01 M117.8 158.2h.01 M119.2 158.2h.01 M131.2 158.2h.01 M143.2 158.2h.01 M83.2 159.8h.01 M84.8 159.8h.01 M90.8 159.8h.01 M95.2 159.8h.01 M96.8 159.8h.01 M98.2 159.8h.01 M104.2 159.8h.01 M114.8 159.8h.01 M119.2 159.8h.01 M129.8 159.8h.01 M131.2 159.8h.01 M137.2 159.8h.01 M138.8 159.8h.01 M140.2 159.8h.01 M81.8 161.2h.01 M87.8 161.2h.01 M96.8 161.2h.01 M99.8 161.2h.01 M101.2 161.2h.01 M102.8 161.2h.01 M107.2 161.2h.01 M108.8 161.2h.01 M110.2 161.2h.01 M114.8 161.2h.01 M122.2 161.2h.01 M126.8 161.2h.01 M132.8 161.2h.01 M138.8 161.2h.01 M141.8 161.2h.01 M84.8 162.8h.01 M89.2 162.8h.01 M92.2 162.8h.01 M93.8 162.8h.01 M98.2 162.8h.01 M99.8 162.8h.01 M101.2 162.8h.01 M102.8 162.8h.01 M104.2 162.8h.01 M105.8 162.8h.01 M108.8 162.8h.01 M126.8 162.8h.01 M93.8 164.2h.01 M96.8 164.2h.01 M99.8 164.2h.01 M101.2 164.2h.01 M104.2 164.2h.01 M107.2 164.2h.01 M110.2 164.2h.01 M111.8 164.2h.01 M119.2 164.2h.01 M135.8 164.2h.01 M141.8 164.2h.01 M146.2 164.2h.01 M89.2 165.8h.01 M90.8 165.8h.01 M92.2 165.8h.01 M93.8 165.8h.01 M98.2 165.8h.01 M101.2 165.8h.01 M104.2 165.8h.01 M107.2 165.8h.01 M108.8 165.8h.01 M119.2 165.8h.01 M128.2 165.8h.01 M87.8 167.2h.01 M89.2 167.2h.01 M93.8 167.2h.01 M95.2 167.2h.01 M98.2 167.2h.01 M99.8 167.2h.01 M101.2 167.2h.01 M102.8 167.2h.01 M108.8 167.2h.01 M119.2 167.2h.01 M120.8 167.2h.01 M135.8 167.2h.01 M140.2 167.2h.01 M359.2 167.2h.01 M89.2 168.8h.01 M92.2 168.8h.01 M93.8 168.8h.01 M95.2 168.8h.01 M96.8 168.8h.01 M98.2 168.8h.01 M99.8 168.8h.01 M104.2 168.8h.01 M107.2 168.8h.01 M108.8 168.8h.01 M111.8 168.8h.01 M116.2 168.8h.01 M117.8 168.8h.01 M131.2 168.8h.01 M144.8 168.8h.01 M86.2 170.2h.01 M90.8 170.2h.01 M95.2 170.2h.01 M96.8 170.2h.01 M98.2 170.2h.01 M101.2 170.2h.01 M102.8 170.2h.01 M105.8 170.2h.01 M107.2 170.2h.01 M108.8 170.2h.01 M129.8 170.2h.01 M87.8 171.8h.01 M92.2 171.8h.01 M95.2 171.8h.01 M98.2 171.8h.01 M101.2 171.8h.01 M104.2 171.8h.01 M107.2 171.8h.01 M108.8 171.8h.01 M110.2 171.8h.01 M114.8 171.8h.01 M117.8 171.8h.01 M125.2 171.8h.01 M126.8 171.8h.01 M135.8 171.8h.01 M363.8 171.8h.01 M90.8 173.2h.01 M105.8 173.2h.01 M107.2 173.2h.01 M108.8 173.2h.01 M113.2 173.2h.01 M116.2 173.2h.01 M119.2 173.2h.01 M140.2 173.2h.01 M357.8 173.2h.01 M362.2 173.2h.01 M77.2 174.8h.01 M84.8 174.8h.01 M92.2 174.8h.01 M95.2 174.8h.01 M98.2 174.8h.01 M107.2 174.8h.01 M108.8 174.8h.01 M122.2 174.8h.01 M126.8 174.8h.01 M131.2 174.8h.01 M138.8 174.8h.01 M356.2 174.8h.01 M365.2 174.8h.01 M80.2 176.2h.01 M87.8 176.2h.01 M90.8 176.2h.01 M92.2 176.2h.01 M93.8 176.2h.01 M95.2 176.2h.01 M96.8 176.2h.01 M98.2 176.2h.01 M99.8 176.2h.01 M102.8 176.2h.01 M104.2 176.2h.01 M105.8 176.2h.01 M108.8 176.2h.01 M111.8 176.2h.01 M113.2 176.2h.01 M119.2 176.2h.01 M132.8 176.2h.01 M356.2 176.2h.01 M357.8 176.2h.01 M360.8 176.2h.01 M363.8 176.2h.01 M366.8 176.2h.01 M86.2 177.8h.01 M89.2 177.8h.01 M92.2 177.8h.01 M93.8 177.8h.01 M99.8 177.8h.01 M101.2 177.8h.01 M102.8 177.8h.01 M104.2 177.8h.01 M107.2 177.8h.01 M111.8 177.8h.01 M113.2 177.8h.01 M114.8 177.8h.01 M125.2 177.8h.01 M126.8 177.8h.01 M129.8 177.8h.01 M131.2 177.8h.01 M356.2 177.8h.01 M357.8 177.8h.01 M359.2 177.8h.01 M362.2 177.8h.01 M365.2 177.8h.01 M81.8 179.2h.01 M89.2 179.2h.01 M90.8 179.2h.01 M92.2 179.2h.01 M96.8 179.2h.01 M98.2 179.2h.01 M99.8 179.2h.01 M101.2 179.2h.01 M104.2 179.2h.01 M105.8 179.2h.01 M107.2 179.2h.01 M111.8 179.2h.01 M113.2 179.2h.01 M120.8 179.2h.01 M128.2 179.2h.01 M131.2 179.2h.01 M138.8 179.2h.01 M354.8 179.2h.01 M356.2 179.2h.01 M357.8 179.2h.01 M359.2 179.2h.01 M360.8 179.2h.01 M362.2 179.2h.01 M363.8 179.2h.01 M84.8 180.8h.01 M87.8 180.8h.01 M89.2 180.8h.01 M90.8 180.8h.01 M92.2 180.8h.01 M93.8 180.8h.01 M96.8 180.8h.01 M98.2 180.8h.01 M99.8 180.8h.01 M101.2 180.8h.01 M102.8 180.8h.01 M104.2 180.8h.01 M105.8 180.8h.01 M110.2 180.8h.01 M117.8 180.8h.01 M122.2 180.8h.01 M135.8 180.8h.01 M354.8 180.8h.01 M356.2 180.8h.01 M357.8 180.8h.01 M359.2 180.8h.01 M360.8 180.8h.01 M362.2 180.8h.01 M363.8 180.8h.01 M86.2 182.2h.01 M90.8 182.2h.01 M92.2 182.2h.01 M95.2 182.2h.01 M98.2 182.2h.01 M99.8 182.2h.01 M101.2 182.2h.01 M102.8 182.2h.01 M104.2 182.2h.01 M107.2 182.2h.01 M110.2 182.2h.01 M129.8 182.2h.01 M353.2 182.2h.01 M354.8 182.2h.01 M356.2 182.2h.01 M357.8 182.2h.01 M359.2 182.2h.01 M360.8 182.2h.01 M362.2 182.2h.01 M363.8 182.2h.01 M365.2 182.2h.01 M87.8 183.8h.01 M92.2 183.8h.01 M93.8 183.8h.01 M95.2 183.8h.01 M98.2 183.8h.01 M99.8 183.8h.01 M101.2 183.8h.01 M102.8 183.8h.01 M104.2 183.8h.01 M105.8 183.8h.01 M107.2 183.8h.01 M111.8 183.8h.01 M113.2 183.8h.01 M119.2 183.8h.01 M120.8 183.8h.01 M123.8 183.8h.01 M353.2 183.8h.01 M354.8 183.8h.01 M356.2 183.8h.01 M357.8 183.8h.01 M359.2 183.8h.01 M360.8 183.8h.01 M362.2 183.8h.01 M363.8 183.8h.01 M89.2 185.2h.01 M93.8 185.2h.01 M95.2 185.2h.01 M96.8 185.2h.01 M99.8 185.2h.01 M101.2 185.2h.01 M105.8 185.2h.01 M107.2 185.2h.01 M108.8 185.2h.01 M114.8 185.2h.01 M116.2 185.2h.01 M120.8 185.2h.01 M129.8 185.2h.01 M350.2 185.2h.01 M351.8 185.2h.01 M353.2 185.2h.01 M354.8 185.2h.01 M356.2 185.2h.01 M357.8 185.2h.01 M359.2 185.2h.01 M360.8 185.2h.01 M362.2 185.2h.01 M363.8 185.2h.01 M365.2 185.2h.01 M366.8 185.2h.01 M89.2 186.8h.01 M90.8 186.8h.01 M93.8 186.8h.01 M95.2 186.8h.01 M96.8 186.8h.01 M98.2 186.8h.01 M101.2 186.8h.01 M104.2 186.8h.01 M105.8 186.8h.01 M111.8 186.8h.01 M120.8 186.8h.01 M125.2 186.8h.01 M129.8 186.8h.01 M350.2 186.8h.01 M351.8 186.8h.01 M353.2 186.8h.01 M354.8 186.8h.01 M356.2 186.8h.01 M357.8 186.8h.01 M359.2 186.8h.01 M360.8 186.8h.01 M362.2 186.8h.01 M363.8 186.8h.01 M87.8 188.2h.01 M92.2 188.2h.01 M93.8 188.2h.01 M96.8 188.2h.01 M99.8 188.2h.01 M105.8 188.2h.01 M107.2 188.2h.01 M116.2 188.2h.01 M117.8 188.2h.01 M123.8 188.2h.01 M126.8 188.2h.01 M348.8 188.2h.01 M350.2 188.2h.01 M351.8 188.2h.01 M353.2 188.2h.01 M354.8 188.2h.01 M356.2 188.2h.01 M357.8 188.2h.01 M359.2 188.2h.01 M360.8 188.2h.01 M362.2 188.2h.01 M363.8 188.2h.01 M87.8 189.8h.01 M89.2 189.8h.01 M90.8 189.8h.01 M92.2 189.8h.01 M93.8 189.8h.01 M95.2 189.8h.01 M98.2 189.8h.01 M99.8 189.8h.01 M101.2 189.8h.01 M102.8 189.8h.01 M105.8 189.8h.01 M108.8 189.8h.01 M114.8 189.8h.01 M128.2 189.8h.01 M135.8 189.8h.01 M350.2 189.8h.01 M351.8 189.8h.01 M353.2 189.8h.01 M354.8 189.8h.01 M356.2 189.8h.01 M357.8 189.8h.01 M359.2 189.8h.01 M360.8 189.8h.01 M362.2 189.8h.01 M363.8 189.8h.01 M90.8 191.2h.01 M92.2 191.2h.01 M96.8 191.2h.01 M99.8 191.2h.01 M104.2 191.2h.01 M105.8 191.2h.01 M107.2 191.2h.01 M108.8 191.2h.01 M110.2 191.2h.01 M114.8 191.2h.01 M117.8 191.2h.01 M120.8 191.2h.01 M122.2 191.2h.01 M350.2 191.2h.01 M351.8 191.2h.01 M353.2 191.2h.01 M354.8 191.2h.01 M356.2 191.2h.01 M357.8 191.2h.01 M359.2 191.2h.01 M360.8 191.2h.01 M362.2 191.2h.01 M363.8 191.2h.01 M89.2 192.8h.01 M90.8 192.8h.01 M92.2 192.8h.01 M93.8 192.8h.01 M95.2 192.8h.01 M99.8 192.8h.01 M104.2 192.8h.01 M107.2 192.8h.01 M119.2 192.8h.01 M132.8 192.8h.01 M350.2 192.8h.01 M351.8 192.8h.01 M353.2 192.8h.01 M354.8 192.8h.01 M356.2 192.8h.01 M357.8 192.8h.01 M359.2 192.8h.01 M360.8 192.8h.01 M362.2 192.8h.01 M363.8 192.8h.01 M90.8 194.2h.01 M92.2 194.2h.01 M93.8 194.2h.01 M95.2 194.2h.01 M99.8 194.2h.01 M101.2 194.2h.01 M102.8 194.2h.01 M104.2 194.2h.01 M105.8 194.2h.01 M107.2 194.2h.01 M114.8 194.2h.01 M120.8 194.2h.01 M350.2 194.2h.01 M351.8 194.2h.01 M353.2 194.2h.01 M354.8 194.2h.01 M356.2 194.2h.01 M357.8 194.2h.01 M359.2 194.2h.01 M360.8 194.2h.01 M362.2 194.2h.01 M363.8 194.2h.01 M89.2 195.8h.01 M90.8 195.8h.01 M93.8 195.8h.01 M95.2 195.8h.01 M99.8 195.8h.01 M101.2 195.8h.01 M102.8 195.8h.01 M104.2 195.8h.01 M108.8 195.8h.01 M110.2 195.8h.01 M119.2 195.8h.01 M123.8 195.8h.01 M348.8 195.8h.01 M350.2 195.8h.01 M351.8 195.8h.01 M353.2 195.8h.01 M354.8 195.8h.01 M356.2 195.8h.01 M357.8 195.8h.01 M359.2 195.8h.01 M360.8 195.8h.01 M362.2 195.8h.01 M363.8 195.8h.01 M89.2 197.2h.01 M90.8 197.2h.01 M93.8 197.2h.01 M95.2 197.2h.01 M96.8 197.2h.01 M104.2 197.2h.01 M107.2 197.2h.01 M110.2 197.2h.01 M114.8 197.2h.01 M120.8 197.2h.01 M128.2 197.2h.01 M132.8 197.2h.01 M350.2 197.2h.01 M351.8 197.2h.01 M353.2 197.2h.01 M354.8 197.2h.01 M356.2 197.2h.01 M357.8 197.2h.01 M359.2 197.2h.01 M360.8 197.2h.01 M362.2 197.2h.01 M86.2 198.8h.01 M89.2 198.8h.01 M92.2 198.8h.01 M93.8 198.8h.01 M95.2 198.8h.01 M96.8 198.8h.01 M98.2 198.8h.01 M101.2 198.8h.01 M102.8 198.8h.01 M107.2 198.8h.01 M113.2 198.8h.01 M350.2 198.8h.01 M351.8 198.8h.01 M353.2 198.8h.01 M354.8 198.8h.01 M356.2 198.8h.01 M357.8 198.8h.01 M359.2 198.8h.01 M360.8 198.8h.01 M362.2 198.8h.01 M363.8 198.8h.01 M86.2 200.2h.01 M89.2 200.2h.01 M90.8 200.2h.01 M92.2 200.2h.01 M93.8 200.2h.01 M95.2 200.2h.01 M96.8 200.2h.01 M99.8 200.2h.01 M104.2 200.2h.01 M107.2 200.2h.01 M110.2 200.2h.01 M111.8 200.2h.01 M350.2 200.2h.01 M351.8 200.2h.01 M353.2 200.2h.01 M354.8 200.2h.01 M356.2 200.2h.01 M357.8 200.2h.01 M359.2 200.2h.01 M360.8 200.2h.01 M362.2 200.2h.01 M363.8 200.2h.01 M90.8 201.8h.01 M92.2 201.8h.01 M95.2 201.8h.01 M96.8 201.8h.01 M98.2 201.8h.01 M99.8 201.8h.01 M105.8 201.8h.01 M110.2 201.8h.01 M122.2 201.8h.01 M350.2 201.8h.01 M351.8 201.8h.01 M353.2 201.8h.01 M354.8 201.8h.01 M356.2 201.8h.01 M357.8 201.8h.01 M359.2 201.8h.01 M360.8 201.8h.01 M362.2 201.8h.01 M363.8 201.8h.01 M87.8 203.2h.01 M90.8 203.2h.01 M93.8 203.2h.01 M96.8 203.2h.01 M98.2 203.2h.01 M102.8 203.2h.01 M104.2 203.2h.01 M111.8 203.2h.01 M114.8 203.2h.01 M119.2 203.2h.01 M122.2 203.2h.01 M348.8 203.2h.01 M350.2 203.2h.01 M351.8 203.2h.01 M353.2 203.2h.01 M354.8 203.2h.01 M356.2 203.2h.01 M357.8 203.2h.01 M359.2 203.2h.01 M360.8 203.2h.01 M362.2 203.2h.01 M363.8 203.2h.01 M86.2 204.8h.01 M87.8 204.8h.01 M89.2 204.8h.01 M90.8 204.8h.01 M92.2 204.8h.01 M95.2 204.8h.01 M107.2 204.8h.01 M126.8 204.8h.01 M347.2 204.8h.01 M350.2 204.8h.01 M351.8 204.8h.01 M353.2 204.8h.01 M354.8 204.8h.01 M356.2 204.8h.01 M357.8 204.8h.01 M359.2 204.8h.01 M360.8 204.8h.01 M362.2 204.8h.01 M86.2 206.2h.01 M93.8 206.2h.01 M96.8 206.2h.01 M102.8 206.2h.01 M107.2 206.2h.01 M111.8 206.2h.01 M119.2 206.2h.01 M123.8 206.2h.01 M347.2 206.2h.01 M350.2 206.2h.01 M351.8 206.2h.01 M353.2 206.2h.01 M354.8 206.2h.01 M356.2 206.2h.01 M357.8 206.2h.01 M359.2 206.2h.01 M360.8 206.2h.01 M93.8 207.8h.01 M96.8 207.8h.01 M351.8 207.8h.01 M353.2 207.8h.01 M354.8 207.8h.01 M356.2 207.8h.01 M357.8 207.8h.01 M359.2 207.8h.01 M360.8 207.8h.01 M87.8 209.2h.01 M92.2 209.2h.01 M93.8 209.2h.01 M113.2 209.2h.01 M351.8 209.2h.01 M356.2 209.2h.01 M357.8 209.2h.01 M359.2 209.2h.01 M96.8 210.8h.01 M102.8 210.8h.01 M104.2 210.8h.01 M119.2 210.8h.01 M351.8 210.8h.01 M357.8 210.8h.01 M359.2 210.8h.01 M95.2 212.2h.01 M98.2 212.2h.01 M357.8 212.2h.01 M87.8 213.8h.01 M107.2 213.8h.01 M113.2 213.8h.01 M93.8 215.2h.01 M93.8 216.8h.01 M99.8 219.8h.01 M101.2 219.8h.01 M93.8 222.8h.01 M366.8 317.2h.01 M372.8 317.2h.01 M374.2 317.2h.01 M360.8 318.8h.01 M102.8 320.2h.01 M363.8 320.2h.01 M377.2 320.2h.01 M381.8 320.2h.01 M98.2 321.8h.01 M356.2 321.8h.01 M366.8 321.8h.01 M368.2 321.8h.01 M372.8 321.8h.01 M381.8 321.8h.01 M398.2 321.8h.01 M107.2 323.2h.01 M371.2 323.2h.01 M380.2 323.2h.01 M99.8 324.8h.01 M360.8 324.8h.01 M368.2 324.8h.01 M375.8 324.8h.01 M389.2 324.8h.01 M407.2 324.8h.01 M98.2 326.2h.01 M105.8 326.2h.01 M354.8 326.2h.01 M365.2 326.2h.01 M366.8 326.2h.01 M374.2 326.2h.01 M95.2 327.8h.01 M101.2 327.8h.01 M104.2 327.8h.01 M105.8 327.8h.01 M362.2 327.8h.01 M363.8 327.8h.01 M372.8 327.8h.01 M375.8 327.8h.01 M380.2 327.8h.01 M389.2 327.8h.01 M95.2 329.2h.01 M102.8 329.2h.01 M362.2 329.2h.01 M374.2 329.2h.01 M375.8 329.2h.01 M381.8 329.2h.01 M393.8 329.2h.01 M95.2 330.8h.01 M107.2 330.8h.01 M351.8 330.8h.01 M359.2 330.8h.01 M366.8 330.8h.01 M368.2 330.8h.01 M371.2 330.8h.01 M375.8 330.8h.01 M383.2 330.8h.01 M356.2 332.2h.01 M363.8 332.2h.01 M377.2 332.2h.01 M384.8 332.2h.01 M386.2 332.2h.01 M392.2 332.2h.01 M104.2 333.8h.01 M357.8 333.8h.01 M363.8 333.8h.01 M365.2 333.8h.01 M366.8 333.8h.01 M375.8 333.8h.01 M377.2 333.8h.01 M96.8 335.2h.01 M98.2 335.2h.01 M102.8 335.2h.01 M360.8 335.2h.01 M362.2 335.2h.01 M365.2 335.2h.01 M366.8 335.2h.01 M369.8 335.2h.01 M383.2 335.2h.01 M386.2 335.2h.01 M102.8 336.8h.01 M104.2 336.8h.01 M353.2 336.8h.01 M365.2 336.8h.01 M371.2 336.8h.01 M377.2 336.8h.01 M98.2 338.2h.01 M372.8 338.2h.01 M375.8 338.2h.01 M380.2 338.2h.01 M381.8 338.2h.01 M407.2 338.2h.01 M351.8 339.8h.01 M363.8 339.8h.01 M368.2 339.8h.01 M381.8 339.8h.01 M401.2 339.8h.01 M95.2 341.2h.01 M98.2 341.2h.01 M99.8 341.2h.01 M348.8 341.2h.01 M356.2 341.2h.01 M359.2 341.2h.01 M362.2 341.2h.01 M372.8 341.2h.01 M384.8 341.2h.01 M96.8 342.8h.01 M362.2 342.8h.01 M363.8 342.8h.01 M365.2 342.8h.01 M368.2 342.8h.01 M369.8 342.8h.01 M371.2 342.8h.01 M375.8 342.8h.01 M377.2 342.8h.01 M378.8 342.8h.01 M387.8 342.8h.01 M407.2 342.8h.01 M102.8 344.2h.01 M104.2 344.2h.01 M365.2 344.2h.01 M368.2 344.2h.01 M372.8 344.2h.01 M375.8 344.2h.01 M101.2 345.8h.01 M357.8 345.8h.01 M359.2 345.8h.01 M362.2 345.8h.01 M368.2 345.8h.01 M369.8 345.8h.01 M371.2 345.8h.01 M372.8 345.8h.01 M375.8 345.8h.01 M96.8 347.2h.01 M362.2 347.2h.01 M363.8 347.2h.01 M365.2 347.2h.01 M366.8 347.2h.01 M381.8 347.2h.01 M386.2 347.2h.01 M389.2 347.2h.01 M104.2 348.8h.01 M356.2 348.8h.01 M359.2 348.8h.01 M362.2 348.8h.01 M365.2 348.8h.01 M366.8 348.8h.01 M368.2 348.8h.01 M389.2 348.8h.01 M98.2 350.2h.01 M102.8 350.2h.01 M354.8 350.2h.01 M359.2 350.2h.01 M360.8 350.2h.01 M363.8 350.2h.01 M366.8 350.2h.01 M369.8 350.2h.01 M372.8 350.2h.01 M398.2 350.2h.01 M95.2 351.8h.01 M102.8 351.8h.01 M359.2 351.8h.01 M363.8 351.8h.01 M366.8 351.8h.01 M368.2 351.8h.01 M374.2 351.8h.01 M389.2 351.8h.01 M390.8 351.8h.01 M407.2 351.8h.01 M408.8 351.8h.01 M95.2 353.2h.01 M96.8 353.2h.01 M102.8 353.2h.01 M351.8 353.2h.01 M357.8 353.2h.01 M363.8 353.2h.01 M366.8 353.2h.01 M371.2 353.2h.01 M101.2 354.8h.01 M362.2 354.8h.01 M369.8 354.8h.01 M375.8 354.8h.01 M377.2 354.8h.01 M381.8 354.8h.01 M392.2 354.8h.01 M393.8 354.8h.01 M407.2 354.8h.01 M95.2 356.2h.01 M101.2 356.2h.01 M354.8 356.2h.01 M357.8 356.2h.01 M360.8 356.2h.01 M362.2 356.2h.01 M365.2 356.2h.01 M366.8 356.2h.01 M369.8 356.2h.01 M386.2 356.2h.01 M96.8 357.8h.01 M99.8 357.8h.01 M356.2 357.8h.01 M363.8 357.8h.01 M380.2 357.8h.01 M386.2 357.8h.01 M402.8 357.8h.01 M410.2 357.8h.01 M95.2 359.2h.01 M98.2 359.2h.01 M102.8 359.2h.01 M353.2 359.2h.01 M357.8 359.2h.01 M362.2 359.2h.01 M363.8 359.2h.01 M368.2 359.2h.01 M372.8 359.2h.01 M96.8 360.8h.01 M101.2 360.8h.01 M359.2 360.8h.01 M365.2 360.8h.01 M368.2 360.8h.01 M369.8 360.8h.01 M374.2 360.8h.01 M383.2 360.8h.01 M386.2 360.8h.01 M405.8 360.8h.01 M96.8 362.2h.01 M98.2 362.2h.01 M99.8 362.2h.01 M365.2 362.2h.01 M378.8 362.2h.01 M396.8 362.2h.01 M96.8 363.8h.01 M101.2 363.8h.01 M357.8 363.8h.01 M359.2 363.8h.01 M360.8 363.8h.01 M363.8 363.8h.01 M368.2 363.8h.01 M375.8 363.8h.01 M380.2 363.8h.01 M390.8 363.8h.01 M93.8 365.2h.01 M95.2 365.2h.01 M101.2 365.2h.01 M353.2 365.2h.01 M356.2 365.2h.01 M360.8 365.2h.01 M362.2 365.2h.01 M363.8 365.2h.01 M365.2 365.2h.01 M366.8 365.2h.01 M368.2 365.2h.01 M378.8 365.2h.01 M410.2 365.2h.01 M96.8 366.8h.01 M350.2 366.8h.01 M363.8 366.8h.01 M369.8 366.8h.01 M371.2 366.8h.01 M383.2 366.8h.01 M389.2 366.8h.01 M395.2 366.8h.01 M98.2 368.2h.01 M351.8 368.2h.01 M356.2 368.2h.01 M357.8 368.2h.01 M359.2 368.2h.01 M365.2 368.2h.01 M396.8 368.2h.01 M92.2 369.8h.01 M95.2 369.8h.01 M350.2 369.8h.01 M360.8 369.8h.01 M363.8 369.8h.01 M365.2 369.8h.01 M368.2 369.8h.01 M369.8 369.8h.01 M371.2 369.8h.01 M377.2 369.8h.01 M392.2 369.8h.01 M96.8 371.2h.01 M348.8 371.2h.01 M359.2 371.2h.01 M360.8 371.2h.01 M363.8 371.2h.01 M365.2 371.2h.01 M89.2 372.8h.01 M93.8 372.8h.01 M96.8 372.8h.01 M98.2 372.8h.01 M99.8 372.8h.01 M102.8 372.8h.01 M359.2 372.8h.01 M363.8 372.8h.01 M365.2 372.8h.01 M368.2 372.8h.01 M375.8 372.8h.01 M92.2 374.2h.01 M96.8 374.2h.01 M99.8 374.2h.01 M357.8 374.2h.01 M360.8 374.2h.01 M396.8 374.2h.01 M92.2 375.8h.01 M101.2 375.8h.01 M347.2 375.8h.01 M356.2 375.8h.01 M357.8 375.8h.01 M359.2 375.8h.01 M366.8 375.8h.01 M89.2 377.2h.01 M99.8 377.2h.01 M351.8 377.2h.01 M357.8 377.2h.01 M359.2 377.2h.01 M362.2 377.2h.01 M365.2 377.2h.01 M369.8 377.2h.01 M371.2 377.2h.01 M375.8 377.2h.01 M386.2 377.2h.01 M401.2 377.2h.01 M95.2 378.8h.01 M96.8 378.8h.01 M99.8 378.8h.01 M102.8 378.8h.01 M359.2 378.8h.01 M360.8 378.8h.01 M362.2 378.8h.01 M363.8 378.8h.01 M371.2 378.8h.01 M383.2 378.8h.01 M96.8 380.2h.01 M101.2 380.2h.01 M102.8 380.2h.01 M350.2 380.2h.01 M351.8 380.2h.01 M362.2 380.2h.01 M366.8 380.2h.01 M95.2 381.8h.01 M96.8 381.8h.01 M98.2 381.8h.01 M99.8 381.8h.01 M350.2 381.8h.01 M365.2 381.8h.01 M366.8 381.8h.01 M368.2 381.8h.01 M371.2 381.8h.01 M384.8 381.8h.01 M386.2 381.8h.01 M393.8 381.8h.01 M93.8 383.2h.01 M101.2 383.2h.01 M350.2 383.2h.01 M356.2 383.2h.01 M360.8 383.2h.01 M380.2 383.2h.01 M383.2 383.2h.01 M386.2 383.2h.01 M393.8 383.2h.01 M90.8 384.8h.01 M92.2 384.8h.01 M93.8 384.8h.01 M96.8 384.8h.01 M348.8 384.8h.01 M359.2 384.8h.01 M368.2 384.8h.01 M369.8 384.8h.01 M375.8 384.8h.01 M377.2 384.8h.01 M387.8 384.8h.01 M390.8 384.8h.01 M93.8 386.2h.01 M96.8 386.2h.01 M102.8 386.2h.01 M365.2 386.2h.01 M369.8 386.2h.01 M374.2 386.2h.01 M92.2 387.8h.01 M99.8 387.8h.01 M102.8 387.8h.01 M356.2 387.8h.01 M357.8 387.8h.01 M363.8 387.8h.01 M365.2 387.8h.01 M372.8 387.8h.01 M92.2 389.2h.01 M93.8 389.2h.01 M96.8 389.2h.01 M98.2 389.2h.01 M353.2 389.2h.01 M360.8 389.2h.01 M371.2 389.2h.01 M378.8 389.2h.01 M383.2 389.2h.01 M387.8 389.2h.01 M389.2 389.2h.01 M90.8 390.8h.01 M93.8 390.8h.01 M347.2 390.8h.01 M354.8 390.8h.01 M365.2 390.8h.01 M380.2 390.8h.01 M98.2 392.2h.01 M363.8 392.2h.01 M366.8 392.2h.01 M368.2 392.2h.01 M369.8 392.2h.01 M378.8 392.2h.01 M90.8 393.8h.01 M92.2 393.8h.01 M93.8 393.8h.01 M98.2 393.8h.01 M350.2 393.8h.01 M351.8 393.8h.01 M359.2 393.8h.01 M365.2 393.8h.01 M366.8 393.8h.01 M369.8 393.8h.01 M372.8 393.8h.01 M380.2 393.8h.01 M387.8 393.8h.01 M401.2 393.8h.01 M89.2 395.2h.01 M95.2 395.2h.01 M98.2 395.2h.01 M99.8 395.2h.01 M101.2 395.2h.01 M348.8 395.2h.01 M353.2 395.2h.01 M362.2 395.2h.01 M363.8 395.2h.01 M365.2 395.2h.01 M366.8 395.2h.01 M368.2 395.2h.01 M387.8 395.2h.01 M92.2 396.8h.01 M93.8 396.8h.01 M96.8 396.8h.01 M99.8 396.8h.01 M101.2 396.8h.01 M348.8 396.8h.01 M359.2 396.8h.01 M360.8 396.8h.01 M365.2 396.8h.01 M369.8 396.8h.01 M375.8 396.8h.01 M386.2 396.8h.01 M86.2 398.2h.01 M96.8 398.2h.01 M99.8 398.2h.01 M347.2 398.2h.01 M365.2 398.2h.01 M369.8 398.2h.01 M371.2 398.2h.01 M377.2 398.2h.01 M383.2 398.2h.01 M393.8 398.2h.01 M93.8 399.8h.01 M101.2 399.8h.01 M347.2 399.8h.01 M359.2 399.8h.01 M360.8 399.8h.01 M366.8 399.8h.01 M368.2 399.8h.01 M381.8 399.8h.01 M387.8 399.8h.01 M395.2 399.8h.01 M404.2 399.8h.01 M407.2 399.8h.01 M93.8 401.2h.01 M96.8 401.2h.01 M99.8 401.2h.01 M350.2 401.2h.01 M369.8 401.2h.01 M377.2 401.2h.01 M395.2 401.2h.01 M89.2 402.8h.01 M90.8 402.8h.01 M95.2 402.8h.01 M101.2 402.8h.01 M102.8 402.8h.01 M363.8 402.8h.01 M365.2 402.8h.01 M366.8 402.8h.01 M368.2 402.8h.01 M375.8 402.8h.01 M378.8 402.8h.01 M386.2 402.8h.01 M390.8 402.8h.01 M99.8 404.2h.01 M102.8 404.2h.01 M347.2 404.2h.01 M351.8 404.2h.01 M360.8 404.2h.01 M362.2 404.2h.01 M363.8 404.2h.01 M380.2 404.2h.01 M381.8 404.2h.01 M387.8 404.2h.01 M390.8 404.2h.01 M392.2 404.2h.01 M90.8 405.8h.01 M92.2 405.8h.01 M93.8 405.8h.01 M96.8 405.8h.01 M357.8 405.8h.01 M360.8 405.8h.01 M365.2 405.8h.01 M366.8 405.8h.01 M368.2 405.8h.01 M371.2 405.8h.01 M377.2 405.8h.01 M384.8 405.8h.01 M93.8 407.2h.01 M95.2 407.2h.01 M98.2 407.2h.01 M357.8 407.2h.01 M360.8 407.2h.01 M365.2 407.2h.01 M368.2 407.2h.01 M369.8 407.2h.01 M371.2 407.2h.01 M374.2 407.2h.01 M90.8 408.8h.01 M95.2 408.8h.01 M96.8 408.8h.01 M362.2 408.8h.01 M366.8 408.8h.01 M369.8 408.8h.01 M381.8 408.8h.01 M390.8 408.8h.01 M392.2 408.8h.01 M90.8 410.2h.01 M93.8 410.2h.01 M95.2 410.2h.01 M96.8 410.2h.01 M102.8 410.2h.01 M354.8 410.2h.01 M359.2 410.2h.01 M365.2 410.2h.01 M368.2 410.2h.01 M377.2 410.2h.01 M399.8 410.2h.01 M402.8 410.2h.01 M410.2 410.2h.01 M89.2 411.8h.01 M90.8 411.8h.01 M95.2 411.8h.01 M98.2 411.8h.01 M350.2 411.8h.01 M353.2 411.8h.01 M354.8 411.8h.01 M357.8 411.8h.01 M365.2 411.8h.01 M366.8 411.8h.01 M381.8 411.8h.01 M396.8 411.8h.01 M407.2 411.8h.01 M95.2 413.2h.01 M96.8 413.2h.01 M98.2 413.2h.01 M101.2 413.2h.01 M359.2 413.2h.01 M360.8 413.2h.01 M362.2 413.2h.01 M365.2 413.2h.01 M366.8 413.2h.01 M369.8 413.2h.01 M375.8 413.2h.01 M390.8 413.2h.01 M395.2 413.2h.01 M404.2 413.2h.01 M410.2 413.2h.01 M89.2 414.8h.01 M90.8 414.8h.01 M92.2 414.8h.01 M93.8 414.8h.01 M96.8 414.8h.01 M98.2 414.8h.01 M99.8 414.8h.01 M348.8 414.8h.01 M353.2 414.8h.01 M357.8 414.8h.01 M366.8 414.8h.01 M368.2 414.8h.01 M380.2 414.8h.01 M386.2 414.8h.01 M387.8 414.8h.01 M408.8 414.8h.01 M410.2 414.8h.01 M89.2 416.2h.01 M92.2 416.2h.01 M95.2 416.2h.01 M96.8 416.2h.01 M98.2 416.2h.01 M353.2 416.2h.01 M360.8 416.2h.01 M363.8 416.2h.01 M365.2 416.2h.01 M369.8 416.2h.01 M371.2 416.2h.01 M377.2 416.2h.01 M398.2 416.2h.01 M86.2 417.8h.01 M89.2 417.8h.01 M92.2 417.8h.01 M93.8 417.8h.01 M366.8 417.8h.01 M368.2 417.8h.01 M410.2 417.8h.01 M95.2 419.2h.01 M96.8 419.2h.01 M98.2 419.2h.01 M350.2 419.2h.01 M357.8 419.2h.01 M360.8 419.2h.01 M366.8 419.2h.01 M369.8 419.2h.01 M377.2 419.2h.01 M381.8 419.2h.01 M384.8 419.2h.01 M404.2 419.2h.01 M89.2 420.8h.01 M92.2 420.8h.01 M95.2 420.8h.01 M350.2 420.8h.01 M357.8 420.8h.01 M360.8 420.8h.01 M362.2 420.8h.01 M366.8 420.8h.01 M369.8 420.8h.01 M383.2 420.8h.01 M89.2 422.2h.01 M90.8 422.2h.01 M92.2 422.2h.01 M93.8 422.2h.01 M359.2 422.2h.01 M362.2 422.2h.01 M363.8 422.2h.01 M365.2 422.2h.01 M368.2 422.2h.01 M369.8 422.2h.01 M89.2 423.8h.01 M90.8 423.8h.01 M92.2 423.8h.01 M93.8 423.8h.01 M99.8 423.8h.01 M350.2 423.8h.01 M359.2 423.8h.01 M362.2 423.8h.01 M363.8 423.8h.01 M366.8 423.8h.01 M368.2 423.8h.01 M381.8 423.8h.01 M383.2 423.8h.01 M386.2 423.8h.01 M398.2 423.8h.01 M407.2 423.8h.01 M89.2 425.2h.01 M90.8 425.2h.01 M95.2 425.2h.01 M362.2 425.2h.01 M366.8 425.2h.01 M369.8 425.2h.01 M395.2 425.2h.01 M86.2 426.8h.01 M87.8 426.8h.01 M89.2 426.8h.01 M90.8 426.8h.01 M92.2 426.8h.01 M96.8 426.8h.01 M348.8 426.8h.01 M354.8 426.8h.01 M359.2 426.8h.01 M360.8 426.8h.01 M362.2 426.8h.01 M363.8 426.8h.01 M365.2 426.8h.01 M366.8 426.8h.01 M89.2 428.2h.01 M92.2 428.2h.01 M95.2 428.2h.01 M96.8 428.2h.01 M98.2 428.2h.01 M359.2 428.2h.01 M360.8 428.2h.01 M363.8 428.2h.01 M366.8 428.2h.01 M369.8 428.2h.01 M389.2 428.2h.01 M84.8 429.8h.01 M86.2 429.8h.01 M90.8 429.8h.01 M92.2 429.8h.01 M93.8 429.8h.01 M356.2 429.8h.01 M360.8 429.8h.01 M362.2 429.8h.01 M365.2 429.8h.01 M366.8 429.8h.01 M368.2 429.8h.01 M374.2 429.8h.01 M375.8 429.8h.01 M378.8 429.8h.01 M86.2 431.2h.01 M93.8 431.2h.01 M95.2 431.2h.01 M351.8 431.2h.01 M353.2 431.2h.01 M356.2 431.2h.01 M357.8 431.2h.01 M359.2 431.2h.01 M362.2 431.2h.01 M363.8 431.2h.01 M378.8 431.2h.01 M384.8 431.2h.01 M398.2 431.2h.01 M84.8 432.8h.01 M86.2 432.8h.01 M89.2 432.8h.01 M90.8 432.8h.01 M93.8 432.8h.01 M95.2 432.8h.01 M353.2 432.8h.01 M354.8 432.8h.01 M359.2 432.8h.01 M360.8 432.8h.01 M362.2 432.8h.01 M372.8 432.8h.01 M405.8 432.8h.01 M407.2 432.8h.01 M87.8 434.2h.01 M90.8 434.2h.01 M93.8 434.2h.01 M95.2 434.2h.01 M96.8 434.2h.01 M98.2 434.2h.01 M357.8 434.2h.01 M360.8 434.2h.01 M86.2 435.8h.01 M89.2 435.8h.01 M93.8 435.8h.01 M95.2 435.8h.01 M350.2 435.8h.01 M357.8 435.8h.01 M362.2 435.8h.01 M365.2 435.8h.01 M369.8 435.8h.01 M377.2 435.8h.01 M399.8 435.8h.01 M87.8 437.2h.01 M90.8 437.2h.01 M92.2 437.2h.01 M95.2 437.2h.01 M96.8 437.2h.01 M98.2 437.2h.01 M351.8 437.2h.01 M356.2 437.2h.01 M357.8 437.2h.01 M359.2 437.2h.01 M360.8 437.2h.01 M362.2 437.2h.01 M365.2 437.2h.01 M369.8 437.2h.01 M372.8 437.2h.01 M86.2 438.8h.01 M87.8 438.8h.01 M89.2 438.8h.01 M90.8 438.8h.01 M92.2 438.8h.01 M95.2 438.8h.01 M351.8 438.8h.01 M354.8 438.8h.01 M360.8 438.8h.01 M363.8 438.8h.01 M366.8 438.8h.01 M368.2 438.8h.01 M84.8 440.2h.01 M86.2 440.2h.01 M87.8 440.2h.01 M89.2 440.2h.01 M92.2 440.2h.01 M93.8 440.2h.01 M95.2 440.2h.01 M96.8 440.2h.01 M354.8 440.2h.01 M356.2 440.2h.01 M365.2 440.2h.01 M368.2 440.2h.01 M378.8 440.2h.01 M384.8 440.2h.01 M86.2 441.8h.01 M87.8 441.8h.01 M89.2 441.8h.01 M92.2 441.8h.01 M93.8 441.8h.01 M95.2 441.8h.01 M96.8 441.8h.01 M101.2 441.8h.01 M351.8 441.8h.01 M357.8 441.8h.01 M365.2 441.8h.01 M371.2 441.8h.01 M411.8 441.8h.01 M84.8 443.2h.01 M87.8 443.2h.01 M89.2 443.2h.01 M90.8 443.2h.01 M92.2 443.2h.01 M93.8 443.2h.01 M95.2 443.2h.01 M96.8 443.2h.01 M350.2 443.2h.01 M356.2 443.2h.01 M360.8 443.2h.01 M362.2 443.2h.01 M368.2 443.2h.01 M375.8 443.2h.01 M377.2 443.2h.01 M383.2 443.2h.01 M86.2 444.8h.01 M87.8 444.8h.01 M89.2 444.8h.01 M90.8 444.8h.01 M93.8 444.8h.01 M95.2 444.8h.01 M353.2 444.8h.01 M356.2 444.8h.01 M357.8 444.8h.01 M359.2 444.8h.01 M360.8 444.8h.01 M362.2 444.8h.01 M366.8 444.8h.01 M368.2 444.8h.01 M372.8 444.8h.01 M375.8 444.8h.01 M377.2 444.8h.01 M404.2 444.8h.01 M83.2 446.2h.01 M86.2 446.2h.01 M87.8 446.2h.01 M89.2 446.2h.01 M90.8 446.2h.01 M92.2 446.2h.01 M93.8 446.2h.01 M96.8 446.2h.01 M350.2 446.2h.01 M357.8 446.2h.01 M359.2 446.2h.01 M362.2 446.2h.01 M389.2 446.2h.01 M390.8 446.2h.01 M393.8 446.2h.01 M398.2 446.2h.01 M84.8 447.8h.01 M86.2 447.8h.01 M87.8 447.8h.01 M89.2 447.8h.01 M90.8 447.8h.01 M92.2 447.8h.01 M93.8 447.8h.01 M95.2 447.8h.01 M96.8 447.8h.01 M356.2 447.8h.01 M360.8 447.8h.01 M362.2 447.8h.01 M363.8 447.8h.01 M366.8 447.8h.01 M369.8 447.8h.01 M375.8 447.8h.01 M378.8 447.8h.01 M384.8 447.8h.01 M389.2 447.8h.01 M410.2 447.8h.01 M86.2 449.2h.01 M87.8 449.2h.01 M89.2 449.2h.01 M90.8 449.2h.01 M92.2 449.2h.01 M93.8 449.2h.01 M347.2 449.2h.01 M353.2 449.2h.01 M359.2 449.2h.01 M360.8 449.2h.01 M363.8 449.2h.01 M365.2 449.2h.01 M366.8 449.2h.01 M368.2 449.2h.01 M371.2 449.2h.01 M372.8 449.2h.01 M374.2 449.2h.01 M401.2 449.2h.01 M86.2 450.8h.01 M87.8 450.8h.01 M89.2 450.8h.01 M90.8 450.8h.01 M92.2 450.8h.01 M95.2 450.8h.01 M351.8 450.8h.01 M356.2 450.8h.01 M357.8 450.8h.01 M359.2 450.8h.01 M362.2 450.8h.01 M365.2 450.8h.01 M369.8 450.8h.01 M371.2 450.8h.01 M372.8 450.8h.01 M386.2 450.8h.01 M389.2 450.8h.01 M393.8 450.8h.01 M86.2 452.2h.01 M87.8 452.2h.01 M89.2 452.2h.01 M90.8 452.2h.01 M92.2 452.2h.01 M93.8 452.2h.01 M351.8 452.2h.01 M354.8 452.2h.01 M357.8 452.2h.01 M360.8 452.2h.01 M369.8 452.2h.01 M374.2 452.2h.01 M375.8 452.2h.01 M378.8 452.2h.01 M381.8 452.2h.01 M387.8 452.2h.01 M389.2 452.2h.01 M402.8 452.2h.01 M84.8 453.8h.01 M86.2 453.8h.01 M87.8 453.8h.01 M89.2 453.8h.01 M90.8 453.8h.01 M92.2 453.8h.01 M93.8 453.8h.01 M96.8 453.8h.01 M359.2 453.8h.01 M360.8 453.8h.01 M363.8 453.8h.01 M372.8 453.8h.01 M383.2 453.8h.01 M392.2 453.8h.01 M410.2 453.8h.01 M80.2 455.2h.01 M86.2 455.2h.01 M87.8 455.2h.01 M89.2 455.2h.01 M90.8 455.2h.01 M92.2 455.2h.01 M93.8 455.2h.01 M95.2 455.2h.01 M353.2 455.2h.01 M354.8 455.2h.01 M359.2 455.2h.01 M363.8 455.2h.01 M366.8 455.2h.01 M369.8 455.2h.01 M372.8 455.2h.01 M390.8 455.2h.01 M84.8 456.8h.01 M86.2 456.8h.01 M87.8 456.8h.01 M89.2 456.8h.01 M90.8 456.8h.01 M92.2 456.8h.01 M93.8 456.8h.01 M350.2 456.8h.01 M351.8 456.8h.01 M353.2 456.8h.01 M354.8 456.8h.01 M360.8 456.8h.01 M369.8 456.8h.01 M372.8 456.8h.01 M381.8 456.8h.01 M389.2 456.8h.01 M408.8 456.8h.01 M84.8 458.2h.01 M86.2 458.2h.01 M87.8 458.2h.01 M89.2 458.2h.01 M90.8 458.2h.01 M92.2 458.2h.01 M93.8 458.2h.01 M350.2 458.2h.01 M351.8 458.2h.01 M354.8 458.2h.01 M357.8 458.2h.01 M362.2 458.2h.01 M363.8 458.2h.01 M365.2 458.2h.01 M368.2 458.2h.01 M374.2 458.2h.01 M377.2 458.2h.01 M380.2 458.2h.01 M396.8 458.2h.01 M399.8 458.2h.01 M80.2 459.8h.01 M86.2 459.8h.01 M87.8 459.8h.01 M89.2 459.8h.01 M90.8 459.8h.01 M348.8 459.8h.01 M350.2 459.8h.01 M366.8 459.8h.01 M372.8 459.8h.01 M374.2 459.8h.01 M377.2 459.8h.01 M384.8 459.8h.01 M398.2 459.8h.01 M86.2 461.2h.01 M87.8 461.2h.01 M89.2 461.2h.01 M90.8 461.2h.01 M93.8 461.2h.01 M350.2 461.2h.01 M356.2 461.2h.01 M357.8 461.2h.01 M359.2 461.2h.01 M362.2 461.2h.01 M363.8 461.2h.01 M368.2 461.2h.01 M369.8 461.2h.01 M374.2 461.2h.01 M377.2 461.2h.01 M380.2 461.2h.01 M383.2 461.2h.01 M387.8 461.2h.01 M399.8 461.2h.01 M86.2 462.8h.01 M87.8 462.8h.01 M89.2 462.8h.01 M90.8 462.8h.01 M92.2 462.8h.01 M96.8 462.8h.01 M347.2 462.8h.01 M350.2 462.8h.01 M351.8 462.8h.01 M354.8 462.8h.01 M360.8 462.8h.01 M365.2 462.8h.01 M368.2 462.8h.01 M369.8 462.8h.01 M371.2 462.8h.01 M374.2 462.8h.01 M377.2 462.8h.01 M381.8 462.8h.01 M81.8 464.2h.01 M86.2 464.2h.01 M87.8 464.2h.01 M89.2 464.2h.01 M90.8 464.2h.01 M348.8 464.2h.01 M351.8 464.2h.01 M356.2 464.2h.01 M357.8 464.2h.01 M363.8 464.2h.01 M365.2 464.2h.01 M369.8 464.2h.01 M375.8 464.2h.01 M383.2 464.2h.01 M395.2 464.2h.01 M407.2 464.2h.01 M84.8 465.8h.01 M86.2 465.8h.01 M87.8 465.8h.01 M89.2 465.8h.01 M90.8 465.8h.01 M92.2 465.8h.01 M348.8 465.8h.01 M351.8 465.8h.01 M356.2 465.8h.01 M357.8 465.8h.01 M360.8 465.8h.01 M363.8 465.8h.01 M365.2 465.8h.01 M366.8 465.8h.01 M371.2 465.8h.01 M375.8 465.8h.01 M377.2 465.8h.01 M84.8 467.2h.01 M86.2 467.2h.01 M87.8 467.2h.01 M89.2 467.2h.01 M90.8 467.2h.01 M92.2 467.2h.01 M93.8 467.2h.01 M95.2 467.2h.01 M351.8 467.2h.01 M353.2 467.2h.01 M356.2 467.2h.01 M360.8 467.2h.01 M362.2 467.2h.01 M371.2 467.2h.01 M387.8 467.2h.01 M83.2 468.8h.01 M86.2 468.8h.01 M87.8 468.8h.01 M89.2 468.8h.01 M90.8 468.8h.01 M93.8 468.8h.01 M348.8 468.8h.01 M354.8 468.8h.01 M365.2 468.8h.01 M368.2 468.8h.01 M369.8 468.8h.01 M372.8 468.8h.01 M375.8 468.8h.01 M377.2 468.8h.01 M396.8 468.8h.01 M398.2 468.8h.01 M401.2 468.8h.01 M84.8 470.2h.01 M86.2 470.2h.01 M87.8 470.2h.01 M89.2 470.2h.01 M90.8 470.2h.01 M92.2 470.2h.01 M93.8 470.2h.01 M359.2 470.2h.01 M360.8 470.2h.01 M362.2 470.2h.01 M363.8 470.2h.01 M368.2 470.2h.01 M371.2 470.2h.01 M374.2 470.2h.01 M375.8 470.2h.01 M387.8 470.2h.01 M398.2 470.2h.01 M84.8 471.8h.01 M86.2 471.8h.01 M87.8 471.8h.01 M89.2 471.8h.01 M90.8 471.8h.01 M92.2 471.8h.01 M357.8 471.8h.01 M362.2 471.8h.01 M363.8 471.8h.01 M365.2 471.8h.01 M366.8 471.8h.01 M372.8 471.8h.01 M377.2 471.8h.01 M401.2 471.8h.01 M84.8 473.2h.01 M86.2 473.2h.01 M87.8 473.2h.01 M89.2 473.2h.01 M90.8 473.2h.01 M93.8 473.2h.01 M347.2 473.2h.01 M348.8 473.2h.01 M351.8 473.2h.01 M354.8 473.2h.01 M362.2 473.2h.01 M363.8 473.2h.01 M365.2 473.2h.01 M366.8 473.2h.01 M392.2 473.2h.01 M407.2 473.2h.01 M84.8 474.8h.01 M86.2 474.8h.01 M87.8 474.8h.01 M89.2 474.8h.01 M90.8 474.8h.01 M351.8 474.8h.01 M359.2 474.8h.01 M360.8 474.8h.01 M362.2 474.8h.01 M363.8 474.8h.01 M365.2 474.8h.01 M366.8 474.8h.01 M374.2 474.8h.01 M377.2 474.8h.01 M378.8 474.8h.01 M389.2 474.8h.01 M392.2 474.8h.01 M83.2 476.2h.01 M84.8 476.2h.01 M86.2 476.2h.01 M87.8 476.2h.01 M89.2 476.2h.01 M90.8 476.2h.01 M347.2 476.2h.01 M351.8 476.2h.01 M354.8 476.2h.01 M359.2 476.2h.01 M360.8 476.2h.01 M362.2 476.2h.01 M363.8 476.2h.01 M365.2 476.2h.01 M366.8 476.2h.01 M369.8 476.2h.01 M372.8 476.2h.01 M374.2 476.2h.01 M378.8 476.2h.01 M384.8 476.2h.01 M386.2 476.2h.01 M390.8 476.2h.01 M83.2 477.8h.01 M84.8 477.8h.01 M86.2 477.8h.01 M87.8 477.8h.01 M89.2 477.8h.01 M90.8 477.8h.01 M93.8 477.8h.01 M351.8 477.8h.01 M353.2 477.8h.01 M356.2 477.8h.01 M357.8 477.8h.01 M359.2 477.8h.01 M360.8 477.8h.01 M362.2 477.8h.01 M363.8 477.8h.01 M365.2 477.8h.01 M366.8 477.8h.01 M369.8 477.8h.01 M371.2 477.8h.01 M375.8 477.8h.01 M377.2 477.8h.01 M378.8 477.8h.01 M402.8 477.8h.01 M81.8 479.2h.01 M84.8 479.2h.01 M86.2 479.2h.01 M87.8 479.2h.01 M89.2 479.2h.01 M90.8 479.2h.01 M96.8 479.2h.01 M350.2 479.2h.01 M359.2 479.2h.01 M360.8 479.2h.01 M362.2 479.2h.01 M363.8 479.2h.01 M365.2 479.2h.01 M366.8 479.2h.01 M368.2 479.2h.01 M371.2 479.2h.01 M372.8 479.2h.01 M378.8 479.2h.01 M380.2 479.2h.01 M398.2 479.2h.01 M84.8 480.8h.01 M86.2 480.8h.01 M87.8 480.8h.01 M89.2 480.8h.01 M90.8 480.8h.01 M96.8 480.8h.01 M348.8 480.8h.01 M350.2 480.8h.01 M359.2 480.8h.01 M360.8 480.8h.01 M362.2 480.8h.01 M363.8 480.8h.01 M365.2 480.8h.01 M366.8 480.8h.01 M368.2 480.8h.01 M369.8 480.8h.01 M372.8 480.8h.01 M381.8 480.8h.01 M384.8 480.8h.01 M395.2 480.8h.01 M81.8 482.2h.01 M83.2 482.2h.01 M84.8 482.2h.01 M86.2 482.2h.01 M87.8 482.2h.01 M89.2 482.2h.01 M90.8 482.2h.01 M347.2 482.2h.01 M353.2 482.2h.01 M354.8 482.2h.01 M356.2 482.2h.01 M357.8 482.2h.01 M359.2 482.2h.01 M360.8 482.2h.01 M362.2 482.2h.01 M363.8 482.2h.01 M365.2 482.2h.01 M366.8 482.2h.01 M369.8 482.2h.01 M371.2 482.2h.01 M372.8 482.2h.01 M377.2 482.2h.01 M380.2 482.2h.01 M83.2 483.8h.01 M84.8 483.8h.01 M86.2 483.8h.01 M87.8 483.8h.01 M89.2 483.8h.01 M90.8 483.8h.01 M92.2 483.8h.01 M345.8 483.8h.01 M348.8 483.8h.01 M351.8 483.8h.01 M356.2 483.8h.01 M357.8 483.8h.01 M359.2 483.8h.01 M360.8 483.8h.01 M362.2 483.8h.01 M363.8 483.8h.01 M365.2 483.8h.01 M369.8 483.8h.01 M374.2 483.8h.01 M381.8 483.8h.01 M384.8 483.8h.01 M386.2 483.8h.01 M387.8 483.8h.01 M390.8 483.8h.01 M398.2 483.8h.01 M401.2 483.8h.01 M83.2 485.2h.01 M84.8 485.2h.01 M86.2 485.2h.01 M87.8 485.2h.01 M89.2 485.2h.01 M90.8 485.2h.01 M348.8 485.2h.01 M351.8 485.2h.01 M353.2 485.2h.01 M354.8 485.2h.01 M356.2 485.2h.01 M357.8 485.2h.01 M359.2 485.2h.01 M360.8 485.2h.01 M362.2 485.2h.01 M363.8 485.2h.01 M365.2 485.2h.01 M369.8 485.2h.01 M375.8 485.2h.01 M399.8 485.2h.01 M80.2 486.8h.01 M81.8 486.8h.01 M83.2 486.8h.01 M84.8 486.8h.01 M86.2 486.8h.01 M87.8 486.8h.01 M89.2 486.8h.01 M90.8 486.8h.01 M92.2 486.8h.01 M351.8 486.8h.01 M353.2 486.8h.01 M354.8 486.8h.01 M357.8 486.8h.01 M359.2 486.8h.01 M360.8 486.8h.01 M362.2 486.8h.01 M363.8 486.8h.01 M387.8 486.8h.01 M392.2 486.8h.01 M81.8 488.2h.01 M83.2 488.2h.01 M84.8 488.2h.01 M86.2 488.2h.01 M87.8 488.2h.01 M89.2 488.2h.01 M90.8 488.2h.01 M348.8 488.2h.01 M350.2 488.2h.01 M354.8 488.2h.01 M356.2 488.2h.01 M357.8 488.2h.01 M359.2 488.2h.01 M360.8 488.2h.01 M362.2 488.2h.01 M363.8 488.2h.01 M365.2 488.2h.01 M366.8 488.2h.01 M369.8 488.2h.01 M372.8 488.2h.01 M377.2 488.2h.01 M381.8 488.2h.01 M383.2 488.2h.01 M387.8 488.2h.01 M83.2 489.8h.01 M84.8 489.8h.01 M86.2 489.8h.01 M87.8 489.8h.01 M89.2 489.8h.01 M90.8 489.8h.01 M92.2 489.8h.01 M348.8 489.8h.01 M351.8 489.8h.01 M356.2 489.8h.01 M357.8 489.8h.01 M359.2 489.8h.01 M360.8 489.8h.01 M362.2 489.8h.01 M363.8 489.8h.01 M366.8 489.8h.01 M368.2 489.8h.01 M387.8 489.8h.01 M84.8 491.2h.01 M86.2 491.2h.01 M87.8 491.2h.01 M89.2 491.2h.01 M90.8 491.2h.01 M93.8 491.2h.01 M348.8 491.2h.01 M351.8 491.2h.01 M353.2 491.2h.01 M356.2 491.2h.01 M357.8 491.2h.01 M359.2 491.2h.01 M360.8 491.2h.01 M362.2 491.2h.01 M363.8 491.2h.01 M366.8 491.2h.01 M369.8 491.2h.01 M386.2 491.2h.01 M393.8 491.2h.01 M84.8 492.8h.01 M86.2 492.8h.01 M87.8 492.8h.01 M89.2 492.8h.01 M90.8 492.8h.01 M354.8 492.8h.01 M356.2 492.8h.01 M357.8 492.8h.01 M359.2 492.8h.01 M360.8 492.8h.01 M362.2 492.8h.01 M363.8 492.8h.01 M368.2 492.8h.01 M380.2 492.8h.01 M384.8 492.8h.01 M83.2 494.2h.01 M84.8 494.2h.01 M86.2 494.2h.01 M87.8 494.2h.01 M89.2 494.2h.01 M90.8 494.2h.01 M350.2 494.2h.01 M354.8 494.2h.01 M356.2 494.2h.01 M357.8 494.2h.01 M359.2 494.2h.01 M360.8 494.2h.01 M362.2 494.2h.01 M363.8 494.2h.01 M368.2 494.2h.01 M369.8 494.2h.01 M371.2 494.2h.01 M378.8 494.2h.01 M398.2 494.2h.01 M81.8 495.8h.01 M83.2 495.8h.01 M84.8 495.8h.01 M86.2 495.8h.01 M87.8 495.8h.01 M89.2 495.8h.01 M90.8 495.8h.01 M353.2 495.8h.01 M354.8 495.8h.01 M356.2 495.8h.01 M357.8 495.8h.01 M359.2 495.8h.01 M360.8 495.8h.01 M362.2 495.8h.01 M365.2 495.8h.01 M368.2 495.8h.01 M395.2 495.8h.01 M81.8 497.2h.01 M83.2 497.2h.01 M84.8 497.2h.01 M86.2 497.2h.01 M87.8 497.2h.01 M89.2 497.2h.01 M90.8 497.2h.01 M92.2 497.2h.01 M347.2 497.2h.01 M350.2 497.2h.01 M354.8 497.2h.01 M356.2 497.2h.01 M357.8 497.2h.01 M359.2 497.2h.01 M360.8 497.2h.01 M363.8 497.2h.01 M365.2 497.2h.01 M369.8 497.2h.01 M372.8 497.2h.01 M377.2 497.2h.01 M380.2 497.2h.01 M392.2 497.2h.01 M393.8 497.2h.01 M80.2 498.8h.01 M83.2 498.8h.01 M84.8 498.8h.01 M86.2 498.8h.01 M87.8 498.8h.01 M89.2 498.8h.01 M90.8 498.8h.01 M350.2 498.8h.01 M351.8 498.8h.01 M356.2 498.8h.01 M357.8 498.8h.01 M359.2 498.8h.01 M360.8 498.8h.01 M363.8 498.8h.01 M365.2 498.8h.01 M374.2 498.8h.01 M380.2 498.8h.01 M81.8 500.2h.01 M83.2 500.2h.01 M84.8 500.2h.01 M86.2 500.2h.01 M87.8 500.2h.01 M89.2 500.2h.01 M90.8 500.2h.01 M354.8 500.2h.01 M357.8 500.2h.01 M360.8 500.2h.01 M362.2 500.2h.01 M378.8 500.2h.01 M390.8 500.2h.01 M83.2 501.8h.01 M84.8 501.8h.01 M86.2 501.8h.01 M87.8 501.8h.01 M89.2 501.8h.01 M90.8 501.8h.01 M350.2 501.8h.01 M353.2 501.8h.01 M356.2 501.8h.01 M368.2 501.8h.01 M372.8 501.8h.01 M381.8 501.8h.01 M84.8 503.2h.01 M87.8 503.2h.01 M90.8 503.2h.01 M359.2 503.2h.01 M362.2 503.2h.01 M363.8 503.2h.01 M384.8 503.2h.01 M84.8 504.8h.01 M86.2 504.8h.01 M87.8 504.8h.01 M89.2 504.8h.01 M90.8 504.8h.01 M356.2 504.8h.01 M83.2 506.2h.01 M84.8 506.2h.01 M86.2 506.2h.01 M89.2 506.2h.01 M92.2 506.2h.01 M86.2 507.8h.01 M87.8 507.8h.01 M83.2 509.2h.01 M86.2 509.2h.01 M90.8 509.2h.01" stroke="#000" stroke-width="1.65" stroke-linecap="square" fill="none"/>
<path d="M60 65h.01 M60 154h.01 M60 208h.01 M68 65h.01 M69 84h.01 M73 43h.01 M77 20h.01 M96 470h.01 M97 486h.01 M99 476h.01 M104 506h.01 M105 495h.01 M106 458h.01 M108 335h.01 M108 425h.01 M108 476h.01 M109 440h.01 M111 372h.01 M111 462h.01 M112 340h.01 M112 400h.01 M113 392h.01 M114 371h.01 M114 470h.01 M115 352h.01 M115 404h.01 M118 393h.01 M158 22h.01 M293 449h.01 M323 512h.01 M326 225h.01 M326 229h.01 M327 232h.01 M327 416h.01 M336 210h.01 M338 223h.01 M341 198h.01 M342 484h.01 M343 200h.01 M344 204h.01 M344 470h.01 M347 231h.01 M348 231h.01 M358 164h.01 M361 160h.01 M363 157h.01 M450 210h.01 M450 410h.01" stroke="#000" stroke-width="1.6" stroke-linecap="square" fill="none" transform="translate(0.5,0.5)"/>
</svg>
</body></html>
